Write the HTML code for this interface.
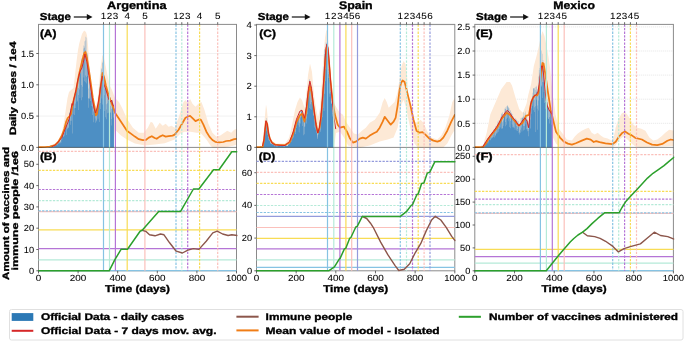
<!DOCTYPE html>
<html><head><meta charset="utf-8"><style>
html,body{margin:0;padding:0;background:#fff;}
body{width:685px;height:342px;overflow:hidden;font-family:"Liberation Sans", sans-serif;}
svg{display:block;will-change:transform;}
</style></head><body>
<svg width="685" height="342" viewBox="0 0 685 342" font-family='"Liberation Sans", sans-serif' text-rendering="geometricPrecision">
<rect width="685" height="342" fill="#fff"/>
<clipPath id="ct0"><rect x="38.5" y="24.4" width="198.0" height="123.6"/></clipPath>
<clipPath id="cb0"><rect x="37.5" y="147.4" width="200.0" height="124.60000000000001"/></clipPath>
<g clip-path="url(#ct0)">
<line x1="38.5" y1="116.10000000000001" x2="236.5" y2="116.10000000000001" stroke="#dedede" stroke-width="0.8" stroke-dasharray="1 1"/>
<line x1="38.5" y1="84.80000000000001" x2="236.5" y2="84.80000000000001" stroke="#dedede" stroke-width="0.8" stroke-dasharray="1 1"/>
<line x1="38.5" y1="53.5" x2="236.5" y2="53.5" stroke="#dedede" stroke-width="0.8" stroke-dasharray="1 1"/>
<polygon points="38.5,147.4 48.0,146.5 54.0,144.0 58.8,140.0 62.0,132.0 64.0,122.0 66.0,108.0 67.5,98.0 69.0,92.0 71.0,90.0 73.5,88.0 75.0,75.0 76.4,62.6 78.0,50.0 79.3,43.3 82.0,34.0 84.1,30.4 86.0,32.0 87.0,35.6 88.0,45.0 88.6,53.0 90.0,75.0 90.9,90.0 92.5,100.0 94.0,104.0 96.0,106.0 97.5,100.0 99.0,85.0 100.5,68.0 102.4,55.0 104.0,58.0 106.0,68.0 108.0,78.0 110.0,86.0 112.0,90.0 115.0,97.9 119.0,101.9 123.0,109.8 126.9,118.7 132.9,127.7 138.8,132.7 143.8,132.7 147.8,127.7 150.8,121.7 152.7,122.7 155.7,128.7 159.7,122.7 162.7,125.7 165.7,123.7 168.6,126.7 171.6,125.7 174.6,127.7 178.6,117.8 181.6,107.8 183.5,101.9 185.5,99.9 187.5,102.8 190.1,98.9 192.5,103.8 195.5,106.8 198.4,103.8 201.4,101.9 204.4,109.8 208.4,123.7 212.4,132.7 216.3,136.6 220.3,135.6 224.3,132.7 227.3,130.7 231.2,132.7 234.2,129.7 237.0,128.7 237.0,144.6 234.2,145.6 225.0,147.4 212.4,147.4 210.4,145.6 206.4,139.6 200.4,132.7 196.5,132.7 190.5,131.7 184.5,131.7 180.6,133.6 174.6,139.6 164.7,143.2 154.7,144.6 144.8,145.6 134.9,143.6 126.9,139.6 121.0,135.6 115.0,129.7 113.0,147.4" fill="#fde9d6" />
<path d="M48.40,147.4L48.40,146.25L48.60,146.25L48.60,146.73L48.80,146.73L48.80,147.26L48.99,147.26L48.99,146.72L49.19,146.72L49.19,146.23L49.39,146.23L49.39,145.90L49.59,145.90L49.59,145.79L49.79,145.79L49.79,146.50L49.98,146.50L49.98,146.42L50.18,146.42L50.18,146.67L50.38,146.67L50.38,146.52L50.58,146.52L50.58,146.06L50.78,146.06L50.78,145.35L50.97,145.35L50.97,146.28L51.17,146.28L51.17,145.31L51.37,145.31L51.37,145.65L51.57,145.65L51.57,145.28L51.77,145.28L51.77,145.66L51.96,145.66L51.96,146.82L52.16,146.82L52.16,146.72L52.36,146.72L52.36,146.34L52.56,146.34L52.56,146.01L52.76,146.01L52.76,146.03L52.95,146.03L52.95,145.96L53.15,145.96L53.15,145.94L53.35,145.94L53.35,146.90L53.55,146.90L53.55,146.21L53.75,146.21L53.75,145.41L53.94,145.41L53.94,145.40L54.14,145.40L54.14,144.91L54.34,144.91L54.34,145.17L54.54,145.17L54.54,145.36L54.74,145.36L54.74,145.42L54.93,145.42L54.93,145.79L55.13,145.79L55.13,144.62L55.33,144.62L55.33,144.74L55.53,144.74L55.53,144.11L55.73,144.11L55.73,144.25L55.92,144.25L55.92,144.46L56.12,144.46L56.12,144.98L56.32,144.98L56.32,144.89L56.52,144.89L56.52,143.71L56.72,143.71L56.72,142.95L56.91,142.95L56.91,142.96L57.11,142.96L57.11,142.69L57.31,142.69L57.31,145.29L57.51,145.29L57.51,143.96L57.71,143.96L57.71,143.70L57.90,143.70L57.90,141.23L58.10,141.23L58.10,141.43L58.30,141.43L58.30,140.69L58.50,140.69L58.50,143.92L58.70,143.92L58.70,141.61L58.89,141.61L58.89,142.27L59.09,142.27L59.09,143.35L59.29,143.35L59.29,139.78L59.49,139.78L59.49,139.58L59.69,139.58L59.69,139.15L59.88,139.15L59.88,143.25L60.08,143.25L60.08,139.67L60.28,139.67L60.28,141.66L60.48,141.66L60.48,141.69L60.68,141.69L60.68,137.68L60.87,137.68L60.87,143.36L61.07,143.36L61.07,136.56L61.27,136.56L61.27,136.99L61.47,136.99L61.47,137.69L61.67,137.69L61.67,138.83L61.86,138.83L61.86,140.36L62.06,140.36L62.06,135.09L62.26,135.09L62.26,134.06L62.46,134.06L62.46,133.66L62.66,133.66L62.66,135.00L62.85,135.00L62.85,133.47L63.05,133.47L63.05,136.15L63.25,136.15L63.25,137.05L63.45,137.05L63.45,132.02L63.65,132.02L63.65,132.30L63.84,132.30L63.84,132.07L64.04,132.07L64.04,128.85L64.24,128.85L64.24,132.43L64.44,132.43L64.44,132.86L64.64,132.86L64.64,135.65L64.83,135.65L64.83,128.61L65.03,128.61L65.03,125.37L65.23,125.37L65.23,127.81L65.43,127.81L65.43,126.25L65.63,126.25L65.63,127.74L65.82,127.74L65.82,130.29L66.02,130.29L66.02,135.01L66.22,135.01L66.22,125.16L66.42,125.16L66.42,120.69L66.62,120.69L66.62,124.21L66.81,124.21L66.81,121.60L67.01,121.60L67.01,125.28L67.21,125.28L67.21,128.28L67.41,128.28L67.41,129.23L67.61,129.23L67.61,119.09L67.80,119.09L67.80,120.70L68.00,120.70L68.00,120.49L68.20,120.49L68.20,119.00L68.40,119.00L68.40,121.50L68.60,121.50L68.60,127.15L68.79,127.15L68.79,127.95L68.99,127.95L68.99,113.15L69.19,113.15L69.19,113.26L69.39,113.26L69.39,117.37L69.59,117.37L69.59,111.68L69.78,111.68L69.78,112.80L69.98,112.80L69.98,120.82L70.18,120.82L70.18,124.78L70.38,124.78L70.38,111.09L70.58,111.09L70.58,108.47L70.77,108.47L70.77,108.40L70.97,108.40L70.97,108.30L71.17,108.30L71.17,107.65L71.37,107.65L71.37,112.60L71.57,112.60L71.57,120.66L71.76,120.66L71.76,106.09L71.96,106.09L71.96,105.60L72.16,105.60L72.16,103.51L72.36,103.51L72.36,103.79L72.56,103.79L72.56,105.23L72.75,105.23L72.75,133.57L72.95,133.57L72.95,114.24L73.15,114.24L73.15,100.53L73.35,100.53L73.35,98.76L73.55,98.76L73.55,99.10L73.74,99.10L73.74,97.81L73.94,97.81L73.94,97.45L74.14,97.45L74.14,108.20L74.34,108.20L74.34,115.12L74.54,115.12L74.54,94.79L74.73,94.79L74.73,93.26L74.93,93.26L74.93,93.39L75.13,93.39L75.13,91.74L75.33,91.74L75.33,95.31L75.53,95.31L75.53,103.47L75.72,103.47L75.72,107.89L75.92,107.89L75.92,91.09L76.12,91.09L76.12,86.86L76.32,86.86L76.32,86.56L76.52,86.56L76.52,85.99L76.71,85.99L76.71,85.49L76.91,85.49L76.91,102.32L77.11,102.32L77.11,100.77L77.31,100.77L77.31,80.81L77.51,80.81L77.51,80.84L77.70,80.84L77.70,79.28L77.90,79.28L77.90,79.78L78.10,79.78L78.10,110.01L78.30,110.01L78.30,87.89L78.50,87.89L78.50,94.89L78.69,94.89L78.69,75.50L78.89,75.50L78.89,73.64L79.09,73.64L79.09,73.56L79.29,73.56L79.29,71.78L79.49,71.78L79.49,72.41L79.68,72.41L79.68,89.53L79.88,89.53L79.88,97.94L80.08,97.94L80.08,73.29L80.28,73.29L80.28,67.81L80.48,67.81L80.48,66.80L80.67,66.80L80.67,70.25L80.87,70.25L80.87,71.66L81.07,71.66L81.07,84.89L81.27,84.89L81.27,100.37L81.47,100.37L81.47,60.39L81.66,60.39L81.66,59.30L81.86,59.30L81.86,57.94L82.06,57.94L82.06,63.83L82.26,63.83L82.26,58.13L82.46,58.13L82.46,86.80L82.65,86.80L82.65,97.13L82.85,97.13L82.85,55.07L83.05,55.07L83.05,57.40L83.25,57.40L83.25,45.49L83.45,45.49L83.45,48.51L83.64,48.51L83.64,56.33L83.84,56.33L83.84,77.41L84.04,77.41L84.04,81.19L84.24,81.19L84.24,46.62L84.44,46.62L84.44,47.89L84.63,47.89L84.63,41.23L84.83,41.23L84.83,59.15L85.03,59.15L85.03,50.08L85.23,50.08L85.23,75.61L85.43,75.61L85.43,82.16L85.62,82.16L85.62,36.78L85.82,36.78L85.82,40.54L86.02,40.54L86.02,37.38L86.22,37.38L86.22,62.39L86.42,62.39L86.42,53.24L86.61,53.24L86.61,76.90L86.81,76.90L86.81,83.40L87.01,83.40L87.01,57.56L87.21,57.56L87.21,53.05L87.41,53.05L87.41,59.38L87.60,59.38L87.60,54.37L87.80,54.37L87.80,76.04L88.00,76.04L88.00,88.54L88.20,88.54L88.20,98.39L88.40,98.39L88.40,107.76L88.59,107.76L88.59,98.29L88.79,98.29L88.79,65.08L88.99,65.08L88.99,76.64L89.19,76.64L89.19,82.03L89.39,82.03L89.39,97.63L89.58,97.63L89.58,98.94L89.78,98.94L89.78,73.23L89.98,73.23L89.98,74.83L90.18,74.83L90.18,78.40L90.38,78.40L90.38,88.28L90.57,88.28L90.57,92.73L90.77,92.73L90.77,101.04L90.97,101.04L90.97,105.91L91.17,105.91L91.17,91.14L91.37,91.14L91.37,86.94L91.56,86.94L91.56,89.30L91.76,89.30L91.76,93.18L91.96,93.18L91.96,99.28L92.16,99.28L92.16,106.50L92.36,106.50L92.36,115.01L92.55,115.01L92.55,97.66L92.75,97.66L92.75,100.88L92.95,100.88L92.95,99.02L93.15,99.02L93.15,100.62L93.35,100.62L93.35,101.26L93.54,101.26L93.54,111.41L93.74,111.41L93.74,122.20L93.94,122.20L93.94,105.54L94.14,105.54L94.14,105.99L94.34,105.99L94.34,106.55L94.53,106.55L94.53,107.62L94.73,107.62L94.73,107.91L94.93,107.91L94.93,118.47L95.13,118.47L95.13,122.64L95.33,122.64L95.33,109.20L95.52,109.20L95.52,110.09L95.72,110.09L95.72,110.46L95.92,110.46L95.92,111.68L96.12,111.68L96.12,110.29L96.32,110.29L96.32,121.59L96.51,121.59L96.51,120.15L96.71,120.15L96.71,108.19L96.91,108.19L96.91,106.26L97.11,106.26L97.11,105.46L97.31,105.46L97.31,106.96L97.50,106.96L97.50,104.20L97.70,104.20L97.70,111.53L97.90,111.53L97.90,118.82L98.10,118.82L98.10,99.37L98.30,99.37L98.30,98.63L98.49,98.63L98.49,96.87L98.69,96.87L98.69,100.38L98.89,100.38L98.89,94.74L99.09,94.74L99.09,103.61L99.29,103.61L99.29,121.90L99.48,121.90L99.48,88.52L99.68,88.52L99.68,86.91L99.88,86.91L99.88,83.75L100.08,83.75L100.08,87.42L100.28,87.42L100.28,85.36L100.47,85.36L100.47,103.08L100.67,103.08L100.67,109.07L100.87,109.07L100.87,74.31L101.07,74.31L101.07,68.16L101.27,68.16L101.27,69.34L101.46,69.34L101.46,79.83L101.66,79.83L101.66,81.00L101.86,81.00L101.86,98.53L102.06,98.53L102.06,104.56L102.26,104.56L102.26,61.82L102.45,61.82L102.45,74.98L102.65,74.98L102.65,63.06L102.85,63.06L102.85,72.80L103.05,72.80L103.05,74.28L103.25,74.28L103.25,92.94L103.44,92.94L103.44,103.72L103.64,103.72L103.64,78.10L103.84,78.10L103.84,77.95L104.04,77.95L104.04,76.76L104.24,76.76L104.24,86.06L104.43,86.06L104.43,88.59L104.63,88.59L104.63,95.33L104.83,95.33L104.83,110.89L105.03,110.89L105.03,80.35L105.23,80.35L105.23,81.25L105.42,81.25L105.42,82.55L105.62,82.55L105.62,117.35L105.82,117.35L105.82,87.51L106.02,87.51L106.02,104.22L106.22,104.22L106.22,109.42L106.41,109.42L106.41,119.28L106.61,119.28L106.61,87.91L106.81,87.91L106.81,91.60L107.01,91.60L107.01,96.92L107.21,96.92L107.21,91.24L107.40,91.24L107.40,103.15L107.60,103.15L107.60,113.15L107.80,113.15L107.80,92.70L108.00,92.70L108.00,95.10L108.20,95.10L108.20,93.21L108.39,93.21L108.39,94.56L108.59,94.56L108.59,100.68L108.79,100.68L108.79,112.83L108.99,112.83L108.99,115.83L109.19,115.83L109.19,95.30L109.38,95.30L109.38,95.18L109.58,95.18L109.58,99.26L109.78,99.26L109.78,97.09L109.98,97.09L109.98,105.95L110.18,105.95L110.18,112.02L110.37,112.02L110.37,112.91L110.57,112.91L110.57,98.04L110.77,98.04L110.77,97.17L110.97,97.17L110.97,100.82L111.17,100.82L111.17,102.54L111.36,102.54L111.36,125.44L111.56,125.44L111.56,108.89L111.76,108.89L111.76,118.92L111.96,118.92L111.96,99.77L112.16,99.77L112.16,100.18L112.35,100.18L112.35,100.64L112.55,100.64L112.55,102.45L112.75,102.45L112.75,101.91L112.95,101.91L112.95,112.66L113.15,112.66L113.15,117.52L113.34,117.52L113.34,103.56L113.54,103.56L113.54,103.22L113.74,103.22L113.74,105.14L113.94,105.14L113.94,147.4Z" fill="#4d8fc4"/>
<polyline points="38.5,147.2 45.0,147.0 50.0,146.5 55.0,145.1 58.4,141.7 61.8,135.8 64.3,129.0 66.0,122.2 67.7,118.0 69.4,116.3 71.1,113.7 71.9,108.6 72.8,103.6 74.5,96.8 76.2,90.0 78.9,75.0 81.9,61.9 84.3,53.0 85.5,52.0 86.9,58.0 88.9,69.9 90.9,83.8 92.8,97.7 94.8,108.5 95.8,115.4 97.0,114.0 99.0,100.0 101.0,84.0 102.5,73.0 104.0,77.0 106.0,86.0 108.5,95.0 110.8,101.2 113.4,107.7 115.0,112.8 119.0,118.7 123.0,124.7 126.9,130.7 130.9,133.6 134.9,136.6 138.8,139.2 142.8,140.2 145.8,140.0 148.8,137.6 151.8,136.2 154.7,138.0 156.7,138.8 159.7,136.6 162.7,135.2 165.7,136.6 168.6,136.2 172.6,135.6 174.6,134.6 178.6,129.7 182.6,122.7 185.5,117.8 187.5,116.8 190.1,115.8 192.5,118.1 195.5,121.1 198.4,119.7 200.8,119.7 203.4,124.7 206.4,131.7 209.4,136.6 212.4,140.0 215.3,141.8 219.3,142.4 223.3,142.0 226.3,141.0 230.2,140.6 234.2,139.2 237.0,138.8" fill="none" stroke="#f07d16" stroke-width="1.75" stroke-linejoin="round" stroke-linecap="round" />
<polyline points="52.0,146.6 56.0,144.5 59.0,141.0 61.8,137.5 65.2,129.0 67.7,123.0 69.4,118.0 71.1,108.6 72.0,103.6 72.8,105.3 73.6,100.2 75.3,93.4 76.5,87.0 77.9,79.8 79.9,71.9 81.9,67.9 83.9,59.9 84.9,54.0 86.9,61.9 88.9,75.8 90.5,86.0 92.5,100.0 94.0,108.0 95.5,113.0 96.5,110.0 98.0,104.0 99.5,95.0 101.0,84.0 102.3,76.0 103.2,80.0 104.5,86.0 106.0,90.0 107.5,95.0 109.0,100.0 110.5,102.0 111.5,100.0 112.5,104.0 113.5,106.0" fill="none" stroke="#d62728" stroke-width="1.0" stroke-linejoin="round" stroke-linecap="round" />
<line x1="103.5" y1="24.4" x2="103.5" y2="147.4" stroke="#86c3e3" stroke-width="1.2"/>
<line x1="109.5" y1="24.4" x2="109.5" y2="147.4" stroke="#b5ead8" stroke-width="1.2"/>
<line x1="115.4" y1="24.4" x2="115.4" y2="147.4" stroke="#b574d6" stroke-width="1.2"/>
<line x1="127.2" y1="24.4" x2="127.2" y2="147.4" stroke="#f8dc55" stroke-width="1.2"/>
<line x1="144.9" y1="24.4" x2="144.9" y2="147.4" stroke="#fbc0bb" stroke-width="1.2"/>
<line x1="176.0" y1="24.4" x2="176.0" y2="147.4" stroke="#86c3e3" stroke-width="1.2" stroke-dasharray="2.3 1.3"/>
<line x1="181.8" y1="24.4" x2="181.8" y2="147.4" stroke="#b5ead8" stroke-width="1.2" stroke-dasharray="2.3 1.3"/>
<line x1="187.7" y1="24.4" x2="187.7" y2="147.4" stroke="#b574d6" stroke-width="1.2" stroke-dasharray="2.3 1.3"/>
<line x1="199.6" y1="24.4" x2="199.6" y2="147.4" stroke="#f8dc55" stroke-width="1.2" stroke-dasharray="2.3 1.3"/>
<line x1="217.7" y1="24.4" x2="217.7" y2="147.4" stroke="#fbc0bb" stroke-width="1.2" stroke-dasharray="2.3 1.3"/>
</g>
<rect x="38.5" y="24.4" width="198.0" height="246.4" fill="none" stroke="#000" stroke-opacity="0.46" stroke-width="1"/>
<line x1="38.5" y1="147.4" x2="236.5" y2="147.4" stroke="#000" stroke-opacity="0.46" stroke-width="1"/>
<g clip-path="url(#cb0)">
<line x1="38.5" y1="151.3" x2="236.5" y2="151.3" stroke="#fbc0bb" stroke-width="1.2" stroke-dasharray="2.3 1.3"/>
<line x1="38.5" y1="170.4" x2="236.5" y2="170.4" stroke="#f8dc55" stroke-width="1.2" stroke-dasharray="2.3 1.3"/>
<line x1="38.5" y1="189.5" x2="236.5" y2="189.5" stroke="#b574d6" stroke-width="1.2" stroke-dasharray="2.3 1.3"/>
<line x1="38.5" y1="200.6" x2="236.5" y2="200.6" stroke="#b5ead8" stroke-width="1.2" stroke-dasharray="2.3 1.3"/>
<line x1="38.5" y1="211.7" x2="236.5" y2="211.7" stroke="#fbc0bb" stroke-width="1.2"/>
<line x1="38.5" y1="210.9" x2="236.5" y2="210.9" stroke="#86c3e3" stroke-width="1.2" stroke-dasharray="2.3 1.3"/>
<line x1="38.5" y1="229.9" x2="236.5" y2="229.9" stroke="#f8dc55" stroke-width="1.2"/>
<line x1="38.5" y1="248.6" x2="236.5" y2="248.6" stroke="#b574d6" stroke-width="1.2"/>
<line x1="38.5" y1="259.9" x2="236.5" y2="259.9" stroke="#b5ead8" stroke-width="1.2"/>
<line x1="38.5" y1="270.6" x2="236.5" y2="270.6" stroke="#86c3e3" stroke-width="1.2"/>
<line x1="103.5" y1="147.4" x2="103.5" y2="270.8" stroke="#86c3e3" stroke-width="1.2"/>
<line x1="109.5" y1="147.4" x2="109.5" y2="270.8" stroke="#b5ead8" stroke-width="1.2"/>
<line x1="115.4" y1="147.4" x2="115.4" y2="270.8" stroke="#b574d6" stroke-width="1.2"/>
<line x1="127.2" y1="147.4" x2="127.2" y2="270.8" stroke="#f8dc55" stroke-width="1.2"/>
<line x1="144.9" y1="147.4" x2="144.9" y2="270.8" stroke="#fbc0bb" stroke-width="1.2"/>
<line x1="176.0" y1="147.4" x2="176.0" y2="270.8" stroke="#86c3e3" stroke-width="1.2" stroke-dasharray="2.3 1.3"/>
<line x1="181.8" y1="147.4" x2="181.8" y2="270.8" stroke="#b5ead8" stroke-width="1.2" stroke-dasharray="2.3 1.3"/>
<line x1="187.7" y1="147.4" x2="187.7" y2="270.8" stroke="#b574d6" stroke-width="1.2" stroke-dasharray="2.3 1.3"/>
<line x1="199.6" y1="147.4" x2="199.6" y2="270.8" stroke="#f8dc55" stroke-width="1.2" stroke-dasharray="2.3 1.3"/>
<line x1="217.7" y1="147.4" x2="217.7" y2="270.8" stroke="#fbc0bb" stroke-width="1.2" stroke-dasharray="2.3 1.3"/>
<polyline points="142.2,230.3 145.8,231.3 149.5,234.8 155.0,235.8 160.5,234.0 164.0,234.8 169.6,242.8 176.2,251.2 182.4,253.0 187.9,250.1 193.4,248.6 198.9,249.4 206.2,241.3 212.8,232.9 217.2,231.1 222.6,234.0 228.1,235.5 231.8,234.8 237.3,235.5" fill="none" stroke="#8c564b" stroke-width="1.4" stroke-linejoin="round" stroke-linecap="round" />
<polyline points="38.5,270.8 109.2,270.8 114.6,260.1 121.2,249.2 127.5,249.2 140.1,231.3 142.2,230.3 158.7,211.4 180.6,211.4 193.4,189.0 198.9,189.0 213.5,169.7 219.0,169.7 231.8,151.8 237.0,151.8" fill="none" stroke="#2ca02c" stroke-width="1.5" stroke-linejoin="round" stroke-linecap="round" />
</g>
<line x1="103.5" y1="22.2" x2="103.5" y2="24.4" stroke="#444" stroke-width="0.8"/>
<line x1="109.5" y1="22.2" x2="109.5" y2="24.4" stroke="#444" stroke-width="0.8"/>
<line x1="115.4" y1="22.2" x2="115.4" y2="24.4" stroke="#444" stroke-width="0.8"/>
<line x1="127.2" y1="22.2" x2="127.2" y2="24.4" stroke="#444" stroke-width="0.8"/>
<line x1="144.9" y1="22.2" x2="144.9" y2="24.4" stroke="#444" stroke-width="0.8"/>
<line x1="176.0" y1="22.2" x2="176.0" y2="24.4" stroke="#444" stroke-width="0.8"/>
<line x1="181.8" y1="22.2" x2="181.8" y2="24.4" stroke="#444" stroke-width="0.8"/>
<line x1="187.7" y1="22.2" x2="187.7" y2="24.4" stroke="#444" stroke-width="0.8"/>
<line x1="199.6" y1="22.2" x2="199.6" y2="24.4" stroke="#444" stroke-width="0.8"/>
<line x1="217.7" y1="22.2" x2="217.7" y2="24.4" stroke="#444" stroke-width="0.8"/>
<text x="103.5" y="19.0" font-size="9.0" font-weight="normal" text-anchor="middle" fill="#000" textLength="5.5" lengthAdjust="spacingAndGlyphs"  stroke="#000" stroke-width="0.06">1</text>
<text x="109.5" y="19.0" font-size="9.0" font-weight="normal" text-anchor="middle" fill="#000" textLength="5.5" lengthAdjust="spacingAndGlyphs"  stroke="#000" stroke-width="0.06">2</text>
<text x="115.4" y="19.0" font-size="9.0" font-weight="normal" text-anchor="middle" fill="#000" textLength="5.5" lengthAdjust="spacingAndGlyphs"  stroke="#000" stroke-width="0.06">3</text>
<text x="127.2" y="19.0" font-size="9.0" font-weight="normal" text-anchor="middle" fill="#000" textLength="5.5" lengthAdjust="spacingAndGlyphs"  stroke="#000" stroke-width="0.06">4</text>
<text x="144.9" y="19.0" font-size="9.0" font-weight="normal" text-anchor="middle" fill="#000" textLength="5.5" lengthAdjust="spacingAndGlyphs"  stroke="#000" stroke-width="0.06">5</text>
<text x="176.0" y="19.0" font-size="9.0" font-weight="normal" text-anchor="middle" fill="#000" textLength="5.5" lengthAdjust="spacingAndGlyphs"  stroke="#000" stroke-width="0.06">1</text>
<text x="181.8" y="19.0" font-size="9.0" font-weight="normal" text-anchor="middle" fill="#000" textLength="5.5" lengthAdjust="spacingAndGlyphs"  stroke="#000" stroke-width="0.06">2</text>
<text x="187.7" y="19.0" font-size="9.0" font-weight="normal" text-anchor="middle" fill="#000" textLength="5.5" lengthAdjust="spacingAndGlyphs"  stroke="#000" stroke-width="0.06">3</text>
<text x="199.6" y="19.0" font-size="9.0" font-weight="normal" text-anchor="middle" fill="#000" textLength="5.5" lengthAdjust="spacingAndGlyphs"  stroke="#000" stroke-width="0.06">4</text>
<text x="217.7" y="19.0" font-size="9.0" font-weight="normal" text-anchor="middle" fill="#000" textLength="5.5" lengthAdjust="spacingAndGlyphs"  stroke="#000" stroke-width="0.06">5</text>
<text x="136.8" y="9.4" font-size="11.0" font-weight="bold" text-anchor="middle" fill="#000" textLength="59.4" lengthAdjust="spacingAndGlyphs"  stroke="#000" stroke-width="0.35">Argentina</text>
<text x="39.8" y="20.1" font-size="10.2" font-weight="bold" text-anchor="start" fill="#000" textLength="31.2" lengthAdjust="spacingAndGlyphs"  stroke="#000" stroke-width="0.35">Stage</text>
<line x1="73.8" y1="17.0" x2="88.0" y2="17.0" stroke="#111" stroke-width="1.2"/>
<polygon points="86.8,14.1 92.5,17.0 86.8,19.9" fill="#111"/>
<text x="39.9" y="36.8" font-size="10.6" font-weight="bold" text-anchor="start" fill="#000" textLength="16.6" lengthAdjust="spacingAndGlyphs"  stroke="#000" stroke-width="0.35">(A)</text>
<text x="39.9" y="160.0" font-size="10.6" font-weight="bold" text-anchor="start" fill="#000" textLength="16.6" lengthAdjust="spacingAndGlyphs"  stroke="#000" stroke-width="0.35">(B)</text>
<line x1="36.3" y1="147.4" x2="38.5" y2="147.4" stroke="#444" stroke-width="0.8"/>
<text x="33.9" y="150.6" font-size="9.0" font-weight="normal" text-anchor="end" fill="#000" textLength="12.9" lengthAdjust="spacingAndGlyphs"  stroke="#000" stroke-width="0.06">0.0</text>
<line x1="36.3" y1="116.10000000000001" x2="38.5" y2="116.10000000000001" stroke="#444" stroke-width="0.8"/>
<text x="33.9" y="119.30000000000001" font-size="9.0" font-weight="normal" text-anchor="end" fill="#000" textLength="12.9" lengthAdjust="spacingAndGlyphs"  stroke="#000" stroke-width="0.06">0.5</text>
<line x1="36.3" y1="84.80000000000001" x2="38.5" y2="84.80000000000001" stroke="#444" stroke-width="0.8"/>
<text x="33.9" y="88.00000000000001" font-size="9.0" font-weight="normal" text-anchor="end" fill="#000" textLength="12.9" lengthAdjust="spacingAndGlyphs"  stroke="#000" stroke-width="0.06">1.0</text>
<line x1="36.3" y1="53.5" x2="38.5" y2="53.5" stroke="#444" stroke-width="0.8"/>
<text x="33.9" y="56.7" font-size="9.0" font-weight="normal" text-anchor="end" fill="#000" textLength="12.9" lengthAdjust="spacingAndGlyphs"  stroke="#000" stroke-width="0.06">1.5</text>
<line x1="36.3" y1="270.8" x2="38.5" y2="270.8" stroke="#444" stroke-width="0.8"/>
<text x="34.1" y="273.8" font-size="9.0" font-weight="normal" text-anchor="end" fill="#000" textLength="5.15" lengthAdjust="spacingAndGlyphs"  stroke="#000" stroke-width="0.06">0</text>
<line x1="36.3" y1="249.5" x2="38.5" y2="249.5" stroke="#444" stroke-width="0.8"/>
<text x="34.1" y="252.5" font-size="9.0" font-weight="normal" text-anchor="end" fill="#000" textLength="10.3" lengthAdjust="spacingAndGlyphs"  stroke="#000" stroke-width="0.06">10</text>
<line x1="36.3" y1="228.20000000000002" x2="38.5" y2="228.20000000000002" stroke="#444" stroke-width="0.8"/>
<text x="34.1" y="231.20000000000002" font-size="9.0" font-weight="normal" text-anchor="end" fill="#000" textLength="10.3" lengthAdjust="spacingAndGlyphs"  stroke="#000" stroke-width="0.06">20</text>
<line x1="36.3" y1="206.9" x2="38.5" y2="206.9" stroke="#444" stroke-width="0.8"/>
<text x="34.1" y="209.9" font-size="9.0" font-weight="normal" text-anchor="end" fill="#000" textLength="10.3" lengthAdjust="spacingAndGlyphs"  stroke="#000" stroke-width="0.06">30</text>
<line x1="36.3" y1="185.60000000000002" x2="38.5" y2="185.60000000000002" stroke="#444" stroke-width="0.8"/>
<text x="34.1" y="188.60000000000002" font-size="9.0" font-weight="normal" text-anchor="end" fill="#000" textLength="10.3" lengthAdjust="spacingAndGlyphs"  stroke="#000" stroke-width="0.06">40</text>
<line x1="36.3" y1="164.3" x2="38.5" y2="164.3" stroke="#444" stroke-width="0.8"/>
<text x="34.1" y="167.3" font-size="9.0" font-weight="normal" text-anchor="end" fill="#000" textLength="10.3" lengthAdjust="spacingAndGlyphs"  stroke="#000" stroke-width="0.06">50</text>
<line x1="38.5" y1="270.8" x2="38.5" y2="273.40000000000003" stroke="#444" stroke-width="0.8"/>
<text x="38.5" y="280.9" font-size="9.0" font-weight="normal" text-anchor="middle" fill="#000" textLength="5.5" lengthAdjust="spacingAndGlyphs"  stroke="#000" stroke-width="0.06">0</text>
<line x1="78.1" y1="270.8" x2="78.1" y2="273.40000000000003" stroke="#444" stroke-width="0.8"/>
<text x="78.1" y="280.9" font-size="9.0" font-weight="normal" text-anchor="middle" fill="#000" textLength="16.5" lengthAdjust="spacingAndGlyphs"  stroke="#000" stroke-width="0.06">200</text>
<line x1="117.7" y1="270.8" x2="117.7" y2="273.40000000000003" stroke="#444" stroke-width="0.8"/>
<text x="117.7" y="280.9" font-size="9.0" font-weight="normal" text-anchor="middle" fill="#000" textLength="16.5" lengthAdjust="spacingAndGlyphs"  stroke="#000" stroke-width="0.06">400</text>
<line x1="157.3" y1="270.8" x2="157.3" y2="273.40000000000003" stroke="#444" stroke-width="0.8"/>
<text x="157.3" y="280.9" font-size="9.0" font-weight="normal" text-anchor="middle" fill="#000" textLength="16.5" lengthAdjust="spacingAndGlyphs"  stroke="#000" stroke-width="0.06">600</text>
<line x1="196.9" y1="270.8" x2="196.9" y2="273.40000000000003" stroke="#444" stroke-width="0.8"/>
<text x="196.9" y="280.9" font-size="9.0" font-weight="normal" text-anchor="middle" fill="#000" textLength="16.5" lengthAdjust="spacingAndGlyphs"  stroke="#000" stroke-width="0.06">800</text>
<line x1="236.5" y1="270.8" x2="236.5" y2="273.40000000000003" stroke="#444" stroke-width="0.8"/>
<text x="236.5" y="280.9" font-size="8.8" font-weight="normal" text-anchor="middle" fill="#000" textLength="21.2" lengthAdjust="spacingAndGlyphs"  stroke="#000" stroke-width="0.06">1000</text>
<text x="137.5" y="292.2" font-size="9.8" font-weight="bold" text-anchor="middle" fill="#000" textLength="65" lengthAdjust="spacingAndGlyphs"  stroke="#000" stroke-width="0.35">Time (days)</text>
<clipPath id="ct1"><rect x="256.5" y="24.4" width="198.3" height="123.6"/></clipPath>
<clipPath id="cb1"><rect x="255.5" y="147.4" width="200.3" height="124.60000000000001"/></clipPath>
<g clip-path="url(#ct1)">
<line x1="256.5" y1="116.80000000000001" x2="454.8" y2="116.80000000000001" stroke="#dedede" stroke-width="0.8" stroke-dasharray="1 1"/>
<line x1="256.5" y1="86.2" x2="454.8" y2="86.2" stroke="#dedede" stroke-width="0.8" stroke-dasharray="1 1"/>
<line x1="256.5" y1="55.599999999999994" x2="454.8" y2="55.599999999999994" stroke="#dedede" stroke-width="0.8" stroke-dasharray="1 1"/>
<line x1="256.5" y1="25.0" x2="454.8" y2="25.0" stroke="#dedede" stroke-width="0.8" stroke-dasharray="1 1"/>
<polygon points="256.5,147.4 262.0,146.0 263.5,135.0 265.0,115.0 266.0,104.4 267.0,110.0 268.5,128.0 270.0,138.0 272.0,141.0 276.0,143.5 285.0,143.5 289.0,138.0 292.0,125.0 295.0,110.0 297.5,102.0 299.9,97.6 302.0,100.0 304.5,108.0 306.5,92.0 308.0,75.0 310.0,63.6 312.0,72.0 314.0,95.0 316.0,108.0 318.0,118.0 320.0,108.0 322.0,80.0 323.5,55.0 325.0,38.0 326.4,29.4 327.5,33.0 329.0,50.0 331.0,80.0 333.0,95.0 335.0,105.0 338.0,110.0 340.0,112.8 343.0,114.8 346.0,121.7 350.0,127.7 353.9,133.6 357.9,134.6 361.9,130.7 365.8,127.7 369.8,122.7 374.8,119.7 379.7,112.8 382.7,101.9 384.7,97.9 386.7,101.9 388.7,107.8 391.7,104.8 394.6,101.9 397.6,91.9 399.6,78.0 401.5,66.0 403.5,61.0 405.5,64.0 407.0,75.0 408.5,99.9 411.5,111.8 414.5,121.7 417.5,122.7 420.5,119.7 423.5,122.7 427.4,131.7 431.4,137.6 437.4,139.6 441.3,135.6 445.3,127.7 449.3,115.8 452.3,101.9 454.8,97.9 454.8,129.7 451.3,135.6 447.3,143.6 443.3,147.4 417.5,147.4 414.5,143.6 411.5,133.6 408.5,119.7 405.6,105.8 403.6,99.9 401.6,103.8 399.6,115.8 397.6,127.7 393.6,137.6 387.7,139.6 379.7,141.6 369.8,145.6 360.0,147.4 348.0,145.6 344.0,137.6 340.0,131.7 336.0,133.0 334.0,147.4" fill="#fde9d6" />
<path d="M260.07,147.4L260.07,147.22L260.27,147.22L260.27,146.09L260.47,146.09L260.47,146.17L260.66,146.17L260.66,146.73L260.86,146.73L260.86,145.78L261.06,145.78L261.06,145.93L261.26,145.93L261.26,146.77L261.46,146.77L261.46,147.11L261.66,147.11L261.66,146.95L261.85,146.95L261.85,146.95L262.05,146.95L262.05,146.73L262.25,146.73L262.25,146.78L262.45,146.78L262.45,146.78L262.65,146.78L262.65,145.97L262.85,145.97L262.85,145.53L263.04,145.53L263.04,145.02L263.24,145.02L263.24,144.66L263.44,144.66L263.44,142.11L263.64,142.11L263.64,140.52L263.84,140.52L263.84,141.03L264.04,141.03L264.04,138.77L264.23,138.77L264.23,137.60L264.43,137.60L264.43,137.33L264.63,137.33L264.63,137.35L264.83,137.35L264.83,128.57L265.03,128.57L265.03,127.25L265.23,127.25L265.23,123.37L265.42,123.37L265.42,125.10L265.62,125.10L265.62,125.47L265.82,125.47L265.82,129.70L266.02,129.70L266.02,131.28L266.22,131.28L266.22,121.57L266.42,121.57L266.42,118.04L266.61,118.04L266.61,120.60L266.81,120.60L266.81,122.37L267.01,122.37L267.01,126.36L267.21,126.36L267.21,128.77L267.41,128.77L267.41,135.05L267.60,135.05L267.60,125.60L267.80,125.60L267.80,128.73L268.00,128.73L268.00,131.27L268.20,131.27L268.20,132.82L268.40,132.82L268.40,133.08L268.60,133.08L268.60,137.94L268.79,137.94L268.79,140.15L268.99,140.15L268.99,134.20L269.19,134.20L269.19,137.17L269.39,137.17L269.39,137.80L269.59,137.80L269.59,141.20L269.79,141.20L269.79,140.49L269.98,140.49L269.98,141.30L270.18,141.30L270.18,143.02L270.38,143.02L270.38,139.78L270.58,139.78L270.58,143.99L270.78,143.99L270.78,142.42L270.98,142.42L270.98,144.25L271.17,144.25L271.17,141.87L271.37,141.87L271.37,142.34L271.57,142.34L271.57,144.09L271.77,144.09L271.77,143.57L271.97,143.57L271.97,143.70L272.17,143.70L272.17,143.28L272.36,143.28L272.36,143.83L272.56,143.83L272.56,144.36L272.76,144.36L272.76,144.46L272.96,144.46L272.96,145.17L273.16,145.17L273.16,144.12L273.36,144.12L273.36,143.55L273.55,143.55L273.55,144.83L273.75,144.83L273.75,144.18L273.95,144.18L273.95,144.89L274.15,144.89L274.15,146.46L274.35,146.46L274.35,144.64L274.55,144.64L274.55,145.55L274.74,145.55L274.74,145.14L274.94,145.14L274.94,145.06L275.14,145.06L275.14,144.68L275.34,144.68L275.34,145.45L275.54,145.45L275.54,145.69L275.74,145.69L275.74,146.28L275.93,146.28L275.93,145.72L276.13,145.72L276.13,146.07L276.33,146.07L276.33,146.47L276.53,146.47L276.53,146.04L276.73,146.04L276.73,146.48L276.92,146.48L276.92,145.77L277.12,145.77L277.12,146.39L277.32,146.39L277.32,145.10L277.52,145.10L277.52,146.21L277.72,146.21L277.72,145.81L277.92,145.81L277.92,146.32L278.11,146.32L278.11,145.22L278.31,145.22L278.31,145.46L278.51,145.46L278.51,145.33L278.71,145.33L278.71,145.96L278.91,145.96L278.91,146.10L279.11,146.10L279.11,145.07L279.30,145.07L279.30,145.25L279.50,145.25L279.50,145.77L279.70,145.77L279.70,145.48L279.90,145.48L279.90,145.27L280.10,145.27L280.10,145.00L280.30,145.00L280.30,146.40L280.49,146.40L280.49,145.02L280.69,145.02L280.69,146.06L280.89,146.06L280.89,145.48L281.09,145.48L281.09,146.33L281.29,146.33L281.29,145.37L281.49,145.37L281.49,145.43L281.68,145.43L281.68,145.81L281.88,145.81L281.88,145.01L282.08,145.01L282.08,146.28L282.28,146.28L282.28,145.18L282.48,145.18L282.48,145.78L282.68,145.78L282.68,145.09L282.87,145.09L282.87,145.06L283.07,145.06L283.07,145.51L283.27,145.51L283.27,146.16L283.47,146.16L283.47,145.50L283.67,145.50L283.67,146.48L283.87,146.48L283.87,145.18L284.06,145.18L284.06,146.47L284.26,146.47L284.26,145.59L284.46,145.59L284.46,146.35L284.66,146.35L284.66,146.20L284.86,146.20L284.86,146.21L285.06,146.21L285.06,145.58L285.25,145.58L285.25,145.65L285.45,145.65L285.45,145.05L285.65,145.05L285.65,145.24L285.85,145.24L285.85,145.77L286.05,145.77L286.05,146.10L286.25,146.10L286.25,145.37L286.44,145.37L286.44,145.32L286.64,145.32L286.64,145.32L286.84,145.32L286.84,146.26L287.04,146.26L287.04,146.06L287.24,146.06L287.24,145.05L287.43,145.05L287.43,145.93L287.63,145.93L287.63,146.04L287.83,146.04L287.83,145.69L288.03,145.69L288.03,144.97L288.23,144.97L288.23,144.57L288.43,144.57L288.43,144.06L288.62,144.06L288.62,144.28L288.82,144.28L288.82,143.23L289.02,143.23L289.02,143.63L289.22,143.63L289.22,143.12L289.42,143.12L289.42,143.68L289.62,143.68L289.62,144.15L289.81,144.15L289.81,142.08L290.01,142.08L290.01,141.00L290.21,141.00L290.21,139.69L290.41,139.69L290.41,140.56L290.61,140.56L290.61,139.73L290.81,139.73L290.81,141.85L291.00,141.85L291.00,141.65L291.20,141.65L291.20,138.22L291.40,138.22L291.40,136.55L291.60,136.55L291.60,136.39L291.80,136.39L291.80,135.56L292.00,135.56L292.00,136.17L292.19,136.17L292.19,138.10L292.39,138.10L292.39,138.67L292.59,138.67L292.59,132.80L292.79,132.80L292.79,131.90L292.99,131.90L292.99,132.68L293.19,132.68L293.19,130.15L293.38,130.15L293.38,131.13L293.58,131.13L293.58,133.87L293.78,133.87L293.78,137.52L293.98,137.52L293.98,129.18L294.18,129.18L294.18,126.52L294.38,126.52L294.38,125.33L294.57,125.33L294.57,127.37L294.77,127.37L294.77,126.56L294.97,126.56L294.97,131.79L295.17,131.79L295.17,134.09L295.37,134.09L295.37,124.46L295.57,124.46L295.57,122.49L295.76,122.49L295.76,121.50L295.96,121.50L295.96,122.22L296.16,122.22L296.16,121.27L296.36,121.27L296.36,125.21L296.56,125.21L296.56,127.98L296.75,127.98L296.75,119.78L296.95,119.78L296.95,119.30L297.15,119.30L297.15,118.79L297.35,118.79L297.35,117.85L297.55,117.85L297.55,117.90L297.75,117.90L297.75,121.65L297.94,121.65L297.94,125.31L298.14,125.31L298.14,117.12L298.34,117.12L298.34,116.34L298.54,116.34L298.54,114.50L298.74,114.50L298.74,117.02L298.94,117.02L298.94,132.43L299.13,132.43L299.13,122.71L299.33,122.71L299.33,126.68L299.53,126.68L299.53,113.90L299.73,113.90L299.73,110.99L299.93,110.99L299.93,111.11L300.13,111.11L300.13,113.95L300.32,113.95L300.32,116.41L300.52,116.41L300.52,117.58L300.72,117.58L300.72,123.58L300.92,123.58L300.92,109.32L301.12,109.32L301.12,110.56L301.32,110.56L301.32,111.06L301.51,111.06L301.51,110.76L301.71,110.76L301.71,111.94L301.91,111.94L301.91,117.05L302.11,117.05L302.11,126.02L302.31,126.02L302.31,114.12L302.51,114.12L302.51,114.64L302.70,114.64L302.70,114.59L302.90,114.59L302.90,115.91L303.10,115.91L303.10,116.52L303.30,116.52L303.30,122.10L303.50,122.10L303.50,135.31L303.70,135.31L303.70,117.58L303.89,117.58L303.89,117.87L304.09,117.87L304.09,118.04L304.29,118.04L304.29,115.93L304.49,115.93L304.49,134.29L304.69,134.29L304.69,126.82L304.89,126.82L304.89,126.57L305.08,126.57L305.08,112.13L305.28,112.13L305.28,112.24L305.48,112.24L305.48,110.84L305.68,110.84L305.68,108.79L305.88,108.79L305.88,111.88L306.08,111.88L306.07,118.51L306.27,118.51L306.27,123.51L306.47,123.51L306.47,105.77L306.67,105.77L306.67,102.21L306.87,102.21L306.87,97.52L307.07,97.52L307.07,95.52L307.26,95.52L307.26,98.04L307.46,98.04L307.46,109.69L307.66,109.69L307.66,114.17L307.86,114.17L307.86,93.02L308.06,93.02L308.06,88.04L308.26,88.04L308.26,86.90L308.45,86.90L308.45,85.34L308.65,85.34L308.65,87.11L308.85,87.11L308.85,96.57L309.05,96.57L309.05,108.06L309.25,108.06L309.25,80.90L309.45,80.90L309.45,79.62L309.64,79.62L309.64,79.40L309.84,79.40L309.84,81.90L310.04,81.90L310.04,85.28L310.24,85.28L310.24,104.30L310.44,104.30L310.44,109.20L310.64,109.20L310.64,83.94L310.83,83.94L310.83,84.79L311.03,84.79L311.03,86.10L311.23,86.10L311.23,90.93L311.43,90.93L311.43,90.61L311.63,90.61L311.63,101.92L311.83,101.92L311.83,109.87L312.02,109.87L312.02,95.60L312.22,95.60L312.22,97.20L312.42,97.20L312.42,98.24L312.62,98.24L312.62,99.67L312.82,99.67L312.82,102.66L313.02,102.66L313.02,115.00L313.21,115.00L313.21,116.01L313.41,116.01L313.41,106.25L313.61,106.25L313.61,107.05L313.81,107.05L313.81,108.53L314.01,108.53L314.01,109.58L314.21,109.58L314.21,111.79L314.40,111.79L314.40,121.30L314.60,121.30L314.60,127.42L314.80,127.42L314.80,114.43L315.00,114.43L315.00,115.75L315.20,115.75L315.20,119.22L315.40,119.22L315.40,120.05L315.59,120.05L315.59,123.82L315.79,123.82L315.79,129.41L315.99,129.41L315.99,132.96L316.19,132.96L316.19,122.99L316.39,122.99L316.39,122.52L316.58,122.52L316.58,124.81L316.78,124.81L316.78,125.95L316.98,125.95L316.98,137.57L317.18,137.57L317.18,138.92L317.38,138.92L317.38,135.34L317.58,135.34L317.58,129.52L317.77,129.52L317.77,130.23L317.97,130.23L317.97,130.31L318.17,130.31L318.17,129.19L318.37,129.19L318.37,132.47L318.57,132.47L318.57,132.26L318.77,132.26L318.77,134.54L318.96,134.54L318.96,124.64L319.16,124.64L319.16,126.09L319.36,126.09L319.36,122.34L319.56,122.34L319.56,122.30L319.76,122.30L319.76,123.85L319.96,123.85L319.96,129.53L320.15,129.53L320.15,131.86L320.35,131.86L320.35,117.28L320.55,117.28L320.55,112.74L320.75,112.74L320.75,113.03L320.95,113.03L320.95,114.31L321.15,114.31L321.15,116.14L321.34,116.14L321.34,119.04L321.54,119.04L321.54,117.79L321.74,117.79L321.74,101.59L321.94,101.59L321.94,97.29L322.14,97.29L322.14,91.21L322.34,91.21L322.34,94.70L322.53,94.70L322.53,117.15L322.73,117.15L322.73,100.34L322.93,100.34L322.93,108.01L323.13,108.01L323.13,82.51L323.33,82.51L323.33,75.91L323.53,75.91L323.53,78.09L323.72,78.09L323.72,66.62L323.92,66.62L323.92,111.17L324.12,111.17L324.12,84.20L324.32,84.20L324.32,93.69L324.52,93.69L324.52,54.02L324.72,54.02L324.72,49.33L324.91,49.33L324.91,49.38L325.11,49.38L325.11,50.79L325.31,50.79L325.31,55.96L325.51,55.96L325.51,69.02L325.71,69.02L325.71,81.31L325.91,81.31L325.90,42.22L326.10,42.22L326.10,43.26L326.30,43.26L326.30,43.28L326.50,43.28L326.50,44.54L326.70,44.54L326.70,45.88L326.90,45.88L326.90,69.69L327.09,69.69L327.09,74.86L327.29,74.86L327.29,49.76L327.49,49.76L327.49,51.81L327.69,51.81L327.69,54.78L327.89,54.78L327.89,57.33L328.09,57.33L328.09,60.85L328.28,60.85L328.28,74.26L328.48,74.26L328.48,77.89L328.68,77.89L328.68,68.94L328.88,68.94L328.88,72.06L329.08,72.06L329.08,73.78L329.28,73.78L329.28,78.10L329.47,78.10L329.47,79.66L329.67,79.66L329.67,93.48L329.87,93.48L329.87,96.71L330.07,96.71L330.07,85.73L330.27,85.73L330.27,87.75L330.47,87.75L330.47,89.41L330.66,89.41L330.66,91.94L330.86,91.94L330.86,93.76L331.06,93.76L331.06,103.57L331.26,103.57L331.26,103.84L331.46,103.84L331.46,99.48L331.66,99.48L331.66,102.19L331.85,102.19L331.85,103.77L332.05,103.77L332.05,105.81L332.25,105.81L332.25,108.20L332.45,108.20L332.45,111.50L332.65,111.50L332.65,116.53L332.85,116.53L332.85,114.13L333.04,114.13L333.04,127.76L333.24,127.76L333.24,118.14L333.44,118.14L333.44,120.38L333.64,120.38L333.64,121.14L333.84,121.14L333.84,147.4Z" fill="#4d8fc4"/>
<polyline points="256.5,147.2 262.6,147.0 264.0,140.0 265.0,130.0 266.0,121.4 267.2,124.0 268.6,134.0 270.0,139.0 272.0,142.5 275.0,144.5 280.0,145.0 285.0,145.0 289.7,142.5 293.1,134.0 296.5,122.2 299.9,115.4 302.0,113.8 304.5,121.7 306.5,110.0 308.5,92.0 309.9,86.0 311.5,92.0 314.0,110.0 316.0,124.0 317.8,132.6 319.5,128.0 321.0,118.0 322.5,100.0 323.2,90.0 324.0,80.0 325.0,65.0 326.0,52.0 327.0,46.0 328.0,50.0 329.0,62.0 330.4,80.0 332.0,95.0 334.7,113.8 337.7,124.7 340.0,127.7 344.0,126.7 347.0,131.7 350.0,138.6 352.9,142.6 355.9,141.6 359.9,138.6 362.8,137.6 365.8,138.6 369.8,135.6 373.8,133.2 376.8,131.7 379.7,127.7 382.7,121.7 384.7,116.8 387.7,120.7 390.7,124.7 393.6,121.7 395.6,117.8 397.6,105.8 399.6,89.9 401.0,83.0 402.6,80.5 404.6,82.0 407.6,93.9 410.5,105.8 413.5,119.7 416.5,130.7 419.5,132.7 422.5,132.1 425.4,134.6 429.4,138.6 433.4,140.6 437.4,141.6 440.3,140.6 443.3,137.6 447.3,130.7 451.3,121.7 454.8,114.8" fill="none" stroke="#f07d16" stroke-width="1.75" stroke-linejoin="round" stroke-linecap="round" />
<polyline points="262.6,145.6 264.0,139.8 265.0,129.8 266.0,120.8 267.2,123.8 268.6,133.8 270.0,138.8 272.0,143.0 275.0,145.0 285.0,145.5 289.7,141.2 293.1,132.2 296.5,119.2 299.9,111.2 302.0,110.2 304.5,118.2 306.5,106.2 308.5,88.2 309.9,81.2 311.5,88.2 314.0,110.0 316.0,125.0 317.8,133.0 319.5,127.0 321.0,116.0 322.5,98.0 323.2,88.0 324.0,76.0 325.0,60.0 326.0,48.0 327.0,44.0 328.0,48.0 329.0,60.0 330.4,78.0 332.0,98.0 334.0,118.0 335.7,128.7" fill="none" stroke="#d62728" stroke-width="1.0" stroke-linejoin="round" stroke-linecap="round" />
<line x1="327.5" y1="24.4" x2="327.5" y2="147.4" stroke="#86c3e3" stroke-width="1.2"/>
<line x1="333.8" y1="24.4" x2="333.8" y2="147.4" stroke="#b5ead8" stroke-width="1.2"/>
<line x1="339.9" y1="24.4" x2="339.9" y2="147.4" stroke="#b574d6" stroke-width="1.2"/>
<line x1="345.9" y1="24.4" x2="345.9" y2="147.4" stroke="#f8dc55" stroke-width="1.2"/>
<line x1="351.7" y1="24.4" x2="351.7" y2="147.4" stroke="#fbc0bb" stroke-width="1.2"/>
<line x1="357.5" y1="24.4" x2="357.5" y2="147.4" stroke="#949bdc" stroke-width="1.2"/>
<line x1="400.3" y1="24.4" x2="400.3" y2="147.4" stroke="#86c3e3" stroke-width="1.2" stroke-dasharray="2.3 1.3"/>
<line x1="406.5" y1="24.4" x2="406.5" y2="147.4" stroke="#b5ead8" stroke-width="1.2" stroke-dasharray="2.3 1.3"/>
<line x1="412.5" y1="24.4" x2="412.5" y2="147.4" stroke="#b574d6" stroke-width="1.2" stroke-dasharray="2.3 1.3"/>
<line x1="418.2" y1="24.4" x2="418.2" y2="147.4" stroke="#f8dc55" stroke-width="1.2" stroke-dasharray="2.3 1.3"/>
<line x1="424.1" y1="24.4" x2="424.1" y2="147.4" stroke="#fbc0bb" stroke-width="1.2" stroke-dasharray="2.3 1.3"/>
<line x1="430.0" y1="24.4" x2="430.0" y2="147.4" stroke="#949bdc" stroke-width="1.2" stroke-dasharray="2.3 1.3"/>
</g>
<rect x="256.5" y="24.4" width="198.3" height="246.4" fill="none" stroke="#000" stroke-opacity="0.46" stroke-width="1"/>
<line x1="256.5" y1="147.4" x2="454.8" y2="147.4" stroke="#000" stroke-opacity="0.46" stroke-width="1"/>
<g clip-path="url(#cb1)">
<line x1="256.5" y1="161.4" x2="454.8" y2="161.4" stroke="#949bdc" stroke-width="1.2" stroke-dasharray="2.3 1.3"/>
<line x1="256.5" y1="172.4" x2="454.8" y2="172.4" stroke="#fbc0bb" stroke-width="1.2" stroke-dasharray="2.3 1.3"/>
<line x1="256.5" y1="183.4" x2="454.8" y2="183.4" stroke="#f8dc55" stroke-width="1.2" stroke-dasharray="2.3 1.3"/>
<line x1="256.5" y1="194.5" x2="454.8" y2="194.5" stroke="#b574d6" stroke-width="1.2" stroke-dasharray="2.3 1.3"/>
<line x1="256.5" y1="205.5" x2="454.8" y2="205.5" stroke="#b5ead8" stroke-width="1.2" stroke-dasharray="2.3 1.3"/>
<line x1="256.5" y1="212.5" x2="454.8" y2="212.5" stroke="#86c3e3" stroke-width="1.2" stroke-dasharray="2.3 1.3"/>
<line x1="256.5" y1="216.4" x2="454.8" y2="216.4" stroke="#949bdc" stroke-width="1.2"/>
<line x1="256.5" y1="227.5" x2="454.8" y2="227.5" stroke="#fbc0bb" stroke-width="1.2"/>
<line x1="256.5" y1="238.3" x2="454.8" y2="238.3" stroke="#f8dc55" stroke-width="1.2"/>
<line x1="256.5" y1="248.9" x2="454.8" y2="248.9" stroke="#b574d6" stroke-width="1.2"/>
<line x1="256.5" y1="259.9" x2="454.8" y2="259.9" stroke="#b5ead8" stroke-width="1.2"/>
<line x1="256.5" y1="267.4" x2="454.8" y2="267.4" stroke="#86c3e3" stroke-width="1.2"/>
<line x1="327.5" y1="147.4" x2="327.5" y2="270.8" stroke="#86c3e3" stroke-width="1.2"/>
<line x1="333.8" y1="147.4" x2="333.8" y2="270.8" stroke="#b5ead8" stroke-width="1.2"/>
<line x1="339.9" y1="147.4" x2="339.9" y2="270.8" stroke="#b574d6" stroke-width="1.2"/>
<line x1="345.9" y1="147.4" x2="345.9" y2="270.8" stroke="#f8dc55" stroke-width="1.2"/>
<line x1="351.7" y1="147.4" x2="351.7" y2="270.8" stroke="#fbc0bb" stroke-width="1.2"/>
<line x1="357.5" y1="147.4" x2="357.5" y2="270.8" stroke="#949bdc" stroke-width="1.2"/>
<line x1="400.3" y1="147.4" x2="400.3" y2="270.8" stroke="#86c3e3" stroke-width="1.2" stroke-dasharray="2.3 1.3"/>
<line x1="406.5" y1="147.4" x2="406.5" y2="270.8" stroke="#b5ead8" stroke-width="1.2" stroke-dasharray="2.3 1.3"/>
<line x1="412.5" y1="147.4" x2="412.5" y2="270.8" stroke="#b574d6" stroke-width="1.2" stroke-dasharray="2.3 1.3"/>
<line x1="418.2" y1="147.4" x2="418.2" y2="270.8" stroke="#f8dc55" stroke-width="1.2" stroke-dasharray="2.3 1.3"/>
<line x1="424.1" y1="147.4" x2="424.1" y2="270.8" stroke="#fbc0bb" stroke-width="1.2" stroke-dasharray="2.3 1.3"/>
<line x1="430.0" y1="147.4" x2="430.0" y2="270.8" stroke="#949bdc" stroke-width="1.2" stroke-dasharray="2.3 1.3"/>
<polyline points="362.3,216.4 366.7,218.5 370.5,223.2 373.2,227.3 380.5,241.9 387.8,254.7 395.1,265.6 398.8,270.5 404.3,269.3 409.7,263.8 415.2,252.8 420.7,243.7 426.2,230.9 431.6,220.0 435.3,216.3 440.8,220.0 446.2,227.3 451.7,236.4 455.0,240.5" fill="none" stroke="#8c564b" stroke-width="1.4" stroke-linejoin="round" stroke-linecap="round" />
<polyline points="256.5,270.8 328.7,270.8 334.4,266.9 339.1,259.3 340.1,258.4 344.4,248.9 345.8,248.3 349.6,238.4 350.9,237.5 355.8,227.0 357.2,226.4 362.3,216.4 400.3,216.4 406.4,211.7 411.2,205.4 412.5,204.8 416.9,194.5 418.2,194.0 421.6,183.5 423.9,183.1 427.3,173.1 429.8,172.1 434.9,161.7 455.0,161.7" fill="none" stroke="#2ca02c" stroke-width="1.5" stroke-linejoin="round" stroke-linecap="round" />
</g>
<line x1="327.5" y1="22.2" x2="327.5" y2="24.4" stroke="#444" stroke-width="0.8"/>
<line x1="333.8" y1="22.2" x2="333.8" y2="24.4" stroke="#444" stroke-width="0.8"/>
<line x1="339.9" y1="22.2" x2="339.9" y2="24.4" stroke="#444" stroke-width="0.8"/>
<line x1="345.9" y1="22.2" x2="345.9" y2="24.4" stroke="#444" stroke-width="0.8"/>
<line x1="351.7" y1="22.2" x2="351.7" y2="24.4" stroke="#444" stroke-width="0.8"/>
<line x1="357.5" y1="22.2" x2="357.5" y2="24.4" stroke="#444" stroke-width="0.8"/>
<line x1="400.3" y1="22.2" x2="400.3" y2="24.4" stroke="#444" stroke-width="0.8"/>
<line x1="406.5" y1="22.2" x2="406.5" y2="24.4" stroke="#444" stroke-width="0.8"/>
<line x1="412.5" y1="22.2" x2="412.5" y2="24.4" stroke="#444" stroke-width="0.8"/>
<line x1="418.2" y1="22.2" x2="418.2" y2="24.4" stroke="#444" stroke-width="0.8"/>
<line x1="424.1" y1="22.2" x2="424.1" y2="24.4" stroke="#444" stroke-width="0.8"/>
<line x1="430.0" y1="22.2" x2="430.0" y2="24.4" stroke="#444" stroke-width="0.8"/>
<text x="327.5" y="19.0" font-size="9.0" font-weight="normal" text-anchor="middle" fill="#000" textLength="5.5" lengthAdjust="spacingAndGlyphs"  stroke="#000" stroke-width="0.06">1</text>
<text x="333.8" y="19.0" font-size="9.0" font-weight="normal" text-anchor="middle" fill="#000" textLength="5.5" lengthAdjust="spacingAndGlyphs"  stroke="#000" stroke-width="0.06">2</text>
<text x="339.9" y="19.0" font-size="9.0" font-weight="normal" text-anchor="middle" fill="#000" textLength="5.5" lengthAdjust="spacingAndGlyphs"  stroke="#000" stroke-width="0.06">3</text>
<text x="345.9" y="19.0" font-size="9.0" font-weight="normal" text-anchor="middle" fill="#000" textLength="5.5" lengthAdjust="spacingAndGlyphs"  stroke="#000" stroke-width="0.06">4</text>
<text x="351.7" y="19.0" font-size="9.0" font-weight="normal" text-anchor="middle" fill="#000" textLength="5.5" lengthAdjust="spacingAndGlyphs"  stroke="#000" stroke-width="0.06">5</text>
<text x="357.5" y="19.0" font-size="9.0" font-weight="normal" text-anchor="middle" fill="#000" textLength="5.5" lengthAdjust="spacingAndGlyphs"  stroke="#000" stroke-width="0.06">6</text>
<text x="400.3" y="19.0" font-size="9.0" font-weight="normal" text-anchor="middle" fill="#000" textLength="5.5" lengthAdjust="spacingAndGlyphs"  stroke="#000" stroke-width="0.06">1</text>
<text x="406.5" y="19.0" font-size="9.0" font-weight="normal" text-anchor="middle" fill="#000" textLength="5.5" lengthAdjust="spacingAndGlyphs"  stroke="#000" stroke-width="0.06">2</text>
<text x="412.5" y="19.0" font-size="9.0" font-weight="normal" text-anchor="middle" fill="#000" textLength="5.5" lengthAdjust="spacingAndGlyphs"  stroke="#000" stroke-width="0.06">3</text>
<text x="418.2" y="19.0" font-size="9.0" font-weight="normal" text-anchor="middle" fill="#000" textLength="5.5" lengthAdjust="spacingAndGlyphs"  stroke="#000" stroke-width="0.06">4</text>
<text x="424.1" y="19.0" font-size="9.0" font-weight="normal" text-anchor="middle" fill="#000" textLength="5.5" lengthAdjust="spacingAndGlyphs"  stroke="#000" stroke-width="0.06">5</text>
<text x="430.0" y="19.0" font-size="9.0" font-weight="normal" text-anchor="middle" fill="#000" textLength="5.5" lengthAdjust="spacingAndGlyphs"  stroke="#000" stroke-width="0.06">6</text>
<text x="355.8" y="9.4" font-size="11.0" font-weight="bold" text-anchor="middle" fill="#000" textLength="33.8" lengthAdjust="spacingAndGlyphs"  stroke="#000" stroke-width="0.35">Spain</text>
<text x="257.8" y="20.1" font-size="10.2" font-weight="bold" text-anchor="start" fill="#000" textLength="31.2" lengthAdjust="spacingAndGlyphs"  stroke="#000" stroke-width="0.35">Stage</text>
<line x1="291.8" y1="17.0" x2="306.0" y2="17.0" stroke="#111" stroke-width="1.2"/>
<polygon points="304.8,14.1 310.5,17.0 304.8,19.9" fill="#111"/>
<text x="259.3" y="36.8" font-size="10.6" font-weight="bold" text-anchor="start" fill="#000" textLength="16.6" lengthAdjust="spacingAndGlyphs"  stroke="#000" stroke-width="0.35">(C)</text>
<text x="258.7" y="160.0" font-size="10.6" font-weight="bold" text-anchor="start" fill="#000" textLength="16.6" lengthAdjust="spacingAndGlyphs"  stroke="#000" stroke-width="0.35">(D)</text>
<line x1="254.3" y1="147.4" x2="256.5" y2="147.4" stroke="#444" stroke-width="0.8"/>
<text x="251.9" y="150.6" font-size="9.0" font-weight="normal" text-anchor="end" fill="#000" textLength="5.3" lengthAdjust="spacingAndGlyphs"  stroke="#000" stroke-width="0.06">0</text>
<line x1="254.3" y1="116.80000000000001" x2="256.5" y2="116.80000000000001" stroke="#444" stroke-width="0.8"/>
<text x="251.9" y="120.00000000000001" font-size="9.0" font-weight="normal" text-anchor="end" fill="#000" textLength="5.3" lengthAdjust="spacingAndGlyphs"  stroke="#000" stroke-width="0.06">1</text>
<line x1="254.3" y1="86.2" x2="256.5" y2="86.2" stroke="#444" stroke-width="0.8"/>
<text x="251.9" y="89.4" font-size="9.0" font-weight="normal" text-anchor="end" fill="#000" textLength="5.3" lengthAdjust="spacingAndGlyphs"  stroke="#000" stroke-width="0.06">2</text>
<line x1="254.3" y1="55.599999999999994" x2="256.5" y2="55.599999999999994" stroke="#444" stroke-width="0.8"/>
<text x="251.9" y="58.8" font-size="9.0" font-weight="normal" text-anchor="end" fill="#000" textLength="5.3" lengthAdjust="spacingAndGlyphs"  stroke="#000" stroke-width="0.06">3</text>
<line x1="254.3" y1="25.0" x2="256.5" y2="25.0" stroke="#444" stroke-width="0.8"/>
<text x="251.9" y="28.2" font-size="9.0" font-weight="normal" text-anchor="end" fill="#000" textLength="5.3" lengthAdjust="spacingAndGlyphs"  stroke="#000" stroke-width="0.06">4</text>
<line x1="254.3" y1="270.8" x2="256.5" y2="270.8" stroke="#444" stroke-width="0.8"/>
<text x="252.1" y="273.8" font-size="9.0" font-weight="normal" text-anchor="end" fill="#000" textLength="5.15" lengthAdjust="spacingAndGlyphs"  stroke="#000" stroke-width="0.06">0</text>
<line x1="254.3" y1="238.10000000000002" x2="256.5" y2="238.10000000000002" stroke="#444" stroke-width="0.8"/>
<text x="252.1" y="241.10000000000002" font-size="9.0" font-weight="normal" text-anchor="end" fill="#000" textLength="10.3" lengthAdjust="spacingAndGlyphs"  stroke="#000" stroke-width="0.06">20</text>
<line x1="254.3" y1="205.4" x2="256.5" y2="205.4" stroke="#444" stroke-width="0.8"/>
<text x="252.1" y="208.4" font-size="9.0" font-weight="normal" text-anchor="end" fill="#000" textLength="10.3" lengthAdjust="spacingAndGlyphs"  stroke="#000" stroke-width="0.06">40</text>
<line x1="254.3" y1="172.70000000000002" x2="256.5" y2="172.70000000000002" stroke="#444" stroke-width="0.8"/>
<text x="252.1" y="175.70000000000002" font-size="9.0" font-weight="normal" text-anchor="end" fill="#000" textLength="10.3" lengthAdjust="spacingAndGlyphs"  stroke="#000" stroke-width="0.06">60</text>
<line x1="256.5" y1="270.8" x2="256.5" y2="273.40000000000003" stroke="#444" stroke-width="0.8"/>
<text x="256.5" y="280.9" font-size="9.0" font-weight="normal" text-anchor="middle" fill="#000" textLength="5.5" lengthAdjust="spacingAndGlyphs"  stroke="#000" stroke-width="0.06">0</text>
<line x1="296.16" y1="270.8" x2="296.16" y2="273.40000000000003" stroke="#444" stroke-width="0.8"/>
<text x="296.16" y="280.9" font-size="9.0" font-weight="normal" text-anchor="middle" fill="#000" textLength="16.5" lengthAdjust="spacingAndGlyphs"  stroke="#000" stroke-width="0.06">200</text>
<line x1="335.82" y1="270.8" x2="335.82" y2="273.40000000000003" stroke="#444" stroke-width="0.8"/>
<text x="335.82" y="280.9" font-size="9.0" font-weight="normal" text-anchor="middle" fill="#000" textLength="16.5" lengthAdjust="spacingAndGlyphs"  stroke="#000" stroke-width="0.06">400</text>
<line x1="375.48" y1="270.8" x2="375.48" y2="273.40000000000003" stroke="#444" stroke-width="0.8"/>
<text x="375.48" y="280.9" font-size="9.0" font-weight="normal" text-anchor="middle" fill="#000" textLength="16.5" lengthAdjust="spacingAndGlyphs"  stroke="#000" stroke-width="0.06">600</text>
<line x1="415.14" y1="270.8" x2="415.14" y2="273.40000000000003" stroke="#444" stroke-width="0.8"/>
<text x="415.14" y="280.9" font-size="9.0" font-weight="normal" text-anchor="middle" fill="#000" textLength="16.5" lengthAdjust="spacingAndGlyphs"  stroke="#000" stroke-width="0.06">800</text>
<line x1="454.8" y1="270.8" x2="454.8" y2="273.40000000000003" stroke="#444" stroke-width="0.8"/>
<text x="454.8" y="280.9" font-size="8.8" font-weight="normal" text-anchor="middle" fill="#000" textLength="21.2" lengthAdjust="spacingAndGlyphs"  stroke="#000" stroke-width="0.06">1000</text>
<text x="355.65" y="292.2" font-size="9.8" font-weight="bold" text-anchor="middle" fill="#000" textLength="65" lengthAdjust="spacingAndGlyphs"  stroke="#000" stroke-width="0.35">Time (days)</text>
<clipPath id="ct2"><rect x="474.8" y="24.4" width="198.59999999999997" height="123.6"/></clipPath>
<clipPath id="cb2"><rect x="473.8" y="147.4" width="200.59999999999997" height="124.60000000000001"/></clipPath>
<g clip-path="url(#ct2)">
<line x1="474.8" y1="123.30000000000001" x2="673.4" y2="123.30000000000001" stroke="#dedede" stroke-width="0.8" stroke-dasharray="1 1"/>
<line x1="474.8" y1="99.2" x2="673.4" y2="99.2" stroke="#dedede" stroke-width="0.8" stroke-dasharray="1 1"/>
<line x1="474.8" y1="75.1" x2="673.4" y2="75.1" stroke="#dedede" stroke-width="0.8" stroke-dasharray="1 1"/>
<line x1="474.8" y1="51.0" x2="673.4" y2="51.0" stroke="#dedede" stroke-width="0.8" stroke-dasharray="1 1"/>
<line x1="474.8" y1="26.900000000000006" x2="673.4" y2="26.900000000000006" stroke="#dedede" stroke-width="0.8" stroke-dasharray="1 1"/>
<polygon points="474.8,147.4 483.0,147.0 484.5,140.0 486.7,132.7 490.3,114.6 495.7,101.9 501.2,89.2 506.6,82.0 510.0,82.0 512.0,85.6 515.7,98.3 519.3,109.2 522.9,112.8 526.5,103.7 528.3,94.7 531.2,83.8 533.8,66.0 536.3,57.0 538.5,48.0 540.5,38.0 542.5,31.0 544.5,36.0 546.5,45.7 548.5,57.0 550.0,67.5 553.0,96.5 555.5,114.6 559.1,129.0 564.6,136.3 566.9,139.6 571.9,140.6 574.8,136.6 577.8,133.6 581.8,130.7 585.8,128.7 588.8,127.7 591.7,132.7 594.7,134.6 597.7,132.7 600.7,135.6 603.7,137.6 607.6,138.6 611.6,140.6 613.6,137.6 615.6,127.7 618.6,118.7 621.5,113.8 624.5,111.8 627.5,114.8 630.5,119.7 633.5,124.7 637.4,127.7 641.4,128.7 645.4,130.7 649.4,137.6 653.3,140.6 657.3,139.6 661.3,136.6 665.3,132.7 669.2,129.7 674.0,130.7 674.0,146.0 640.0,147.4 635.4,146.6 631.5,143.6 627.5,139.6 623.5,136.6 619.6,139.6 615.6,145.6 612.0,147.4 560.0,147.4 556.0,143.6 552.0,135.6 548.0,125.0 545.0,105.0 540.0,147.4" fill="#fde9d6" />
<path d="M480.96,147.4L480.96,146.80L481.16,146.80L481.16,147.10L481.35,147.10L481.35,146.65L481.55,146.65L481.55,146.17L481.75,146.17L481.75,145.76L481.95,145.76L481.95,145.26L482.15,145.26L482.15,145.39L482.35,145.39L482.35,146.55L482.55,146.55L482.55,146.48L482.74,146.48L482.74,146.78L482.94,146.78L482.94,146.75L483.14,146.75L483.14,145.92L483.34,145.92L483.34,145.48L483.54,145.48L483.54,143.89L483.74,143.89L483.74,144.93L483.94,144.93L483.94,145.23L484.13,145.23L484.13,145.41L484.33,145.41L484.33,145.54L484.53,145.54L484.53,144.04L484.73,144.04L484.73,142.26L484.93,142.26L484.93,142.00L485.13,142.00L485.13,142.71L485.33,142.71L485.33,142.80L485.52,142.80L485.52,143.54L485.72,143.54L485.72,143.98L485.92,143.98L485.92,141.20L486.12,141.20L486.12,141.87L486.32,141.87L486.32,139.77L486.52,139.77L486.52,141.31L486.72,141.31L486.72,141.56L486.91,141.56L486.91,141.95L487.11,141.95L487.11,142.73L487.31,142.73L487.31,139.36L487.51,139.36L487.51,138.02L487.71,138.02L487.71,138.27L487.91,138.27L487.91,143.54L488.11,143.54L488.11,139.57L488.30,139.57L488.30,141.48L488.50,141.48L488.50,141.08L488.70,141.08L488.70,136.65L488.90,136.65L488.90,137.19L489.10,137.19L489.10,136.80L489.30,136.80L489.30,136.99L489.50,136.99L489.50,137.25L489.69,137.25L489.69,139.49L489.89,139.49L489.89,139.96L490.09,139.96L490.09,136.24L490.29,136.24L490.29,134.67L490.49,134.67L490.49,136.24L490.69,136.24L490.69,140.17L490.89,140.17L490.89,135.31L491.09,135.31L491.09,137.77L491.28,137.77L491.28,138.72L491.48,138.72L491.48,132.96L491.68,132.96L491.68,134.28L491.88,134.28L491.88,132.04L492.08,132.04L492.08,134.14L492.28,134.14L492.28,133.53L492.48,133.53L492.48,136.96L492.67,136.96L492.67,138.11L492.87,138.11L492.87,132.36L493.07,132.36L493.07,137.08L493.27,137.08L493.27,129.62L493.47,129.62L493.47,132.40L493.67,132.40L493.67,132.95L493.87,132.95L493.87,135.35L494.06,135.35L494.06,137.59L494.26,137.59L494.26,130.27L494.46,130.27L494.46,128.56L494.66,128.56L494.66,129.98L494.86,129.98L494.86,128.72L495.06,128.72L495.06,130.33L495.26,130.33L495.26,134.96L495.45,134.96L495.45,136.19L495.65,136.19L495.65,125.91L495.85,125.91L495.85,127.26L496.05,127.26L496.05,125.61L496.25,125.61L496.25,128.03L496.45,128.03L496.45,129.05L496.65,129.05L496.65,132.92L496.84,132.92L496.84,134.09L497.04,134.09L497.04,125.55L497.24,125.55L497.24,132.40L497.44,132.40L497.44,121.55L497.64,121.55L497.64,125.18L497.84,125.18L497.84,123.55L498.04,123.55L498.04,129.26L498.23,129.26L498.23,131.65L498.43,131.65L498.43,123.78L498.63,123.78L498.63,122.52L498.83,122.52L498.83,120.53L499.03,120.53L499.03,120.46L499.23,120.46L499.23,121.02L499.43,121.02L499.43,126.39L499.62,126.39L499.62,128.88L499.82,128.88L499.82,122.87L500.02,122.87L500.02,120.00L500.22,120.00L500.22,116.82L500.42,116.82L500.42,119.96L500.62,119.96L500.62,119.84L500.82,119.84L500.82,127.42L501.02,127.42L501.02,128.72L501.21,128.72L501.21,117.67L501.41,117.67L501.41,114.15L501.61,114.15L501.61,117.40L501.81,117.40L501.81,113.29L502.01,113.29L502.01,128.66L502.21,128.66L502.21,122.13L502.41,122.13L502.41,128.07L502.60,128.07L502.60,113.81L502.80,113.81L502.80,112.13L503.00,112.13L503.00,116.69L503.20,116.69L503.20,117.36L503.40,117.36L503.40,119.26L503.60,119.26L503.60,120.60L503.80,120.60L503.80,125.68L503.99,125.68L503.99,113.57L504.19,113.57L504.19,108.42L504.39,108.42L504.39,111.66L504.59,111.66L504.59,113.87L504.79,113.87L504.79,113.71L504.99,113.71L504.99,122.01L505.19,122.01L505.19,126.22L505.38,126.22L505.38,109.06L505.58,109.06L505.58,108.81L505.78,108.81L505.78,107.26L505.98,107.26L505.98,111.69L506.18,111.69L506.18,110.70L506.38,110.70L506.38,118.63L506.58,118.63L506.58,124.74L506.77,124.74L506.77,106.24L506.97,106.24L506.97,106.57L507.17,106.57L507.17,105.35L507.37,105.35L507.37,105.81L507.57,105.81L507.57,112.31L507.77,112.31L507.77,117.84L507.97,117.84L507.97,121.31L508.16,121.31L508.16,107.41L508.36,107.41L508.36,106.81L508.56,106.81L508.56,112.89L508.76,112.89L508.76,108.42L508.96,108.42L508.96,116.45L509.16,116.45L509.16,118.45L509.36,118.45L509.36,127.09L509.56,127.09L509.56,113.98L509.75,113.98L509.75,108.35L509.95,108.35L509.95,110.05L510.15,110.05L510.15,110.71L510.35,110.71L510.35,113.51L510.55,113.51L510.55,121.01L510.75,121.01L510.75,128.16L510.95,128.16L510.95,112.40L511.14,112.40L511.14,113.63L511.34,113.63L511.34,114.75L511.54,114.75L511.54,112.73L511.74,112.73L511.74,118.01L511.94,118.01L511.94,124.58L512.14,124.58L512.14,127.31L512.34,127.31L512.34,115.90L512.53,115.90L512.53,116.55L512.73,116.55L512.73,114.06L512.93,114.06L512.93,117.45L513.13,117.45L513.13,116.54L513.33,116.54L513.33,127.70L513.53,127.70L513.53,126.63L513.73,126.63L513.73,117.48L513.92,117.48L513.92,118.04L514.12,118.04L514.12,118.91L514.32,118.91L514.32,120.07L514.52,120.07L514.52,119.39L514.72,119.39L514.72,127.68L514.92,127.68L514.92,129.84L515.12,129.84L515.12,118.10L515.31,118.10L515.31,120.92L515.51,120.92L515.51,119.42L515.71,119.42L515.71,121.60L515.91,121.60L515.91,120.88L516.11,120.88L516.11,125.96L516.31,125.96L516.31,130.49L516.51,130.49L516.51,119.77L516.70,119.77L516.70,119.52L516.90,119.52L516.90,121.60L517.10,121.60L517.10,120.86L517.30,120.86L517.30,126.05L517.50,126.05L517.50,129.11L517.70,129.11L517.70,131.02L517.90,131.02L517.90,125.10L518.09,125.10L518.09,124.22L518.29,124.22L518.29,121.03L518.49,121.03L518.49,123.17L518.69,123.17L518.69,127.07L518.89,127.07L518.89,133.06L519.09,133.06L519.09,132.21L519.29,132.21L519.29,125.12L519.49,125.12L519.49,134.53L519.68,134.53L519.68,123.39L519.88,123.39L519.88,125.83L520.08,125.83L520.08,122.81L520.28,122.81L520.28,129.69L520.48,129.69L520.48,132.76L520.68,132.76L520.68,124.39L520.88,124.39L520.88,117.64L521.07,117.64L521.07,117.83L521.27,117.83L521.27,120.34L521.47,120.34L521.47,124.33L521.67,124.33L521.67,127.54L521.87,127.54L521.87,131.45L522.07,131.45L522.07,116.67L522.27,116.67L522.27,117.63L522.46,117.63L522.46,118.35L522.66,118.35L522.66,118.35L522.86,118.35L522.86,120.64L523.06,120.64L523.06,125.90L523.26,125.90L523.26,130.49L523.46,130.49L523.46,116.33L523.66,116.33L523.66,112.15L523.85,112.15L523.85,117.22L524.05,117.22L524.05,116.89L524.25,116.89L524.25,117.97L524.45,117.97L524.45,126.00L524.65,126.00L524.65,129.71L524.85,129.71L524.85,113.18L525.05,113.18L525.05,111.60L525.24,111.60L525.24,116.59L525.44,116.59L525.44,114.39L525.64,114.39L525.64,119.08L525.84,119.08L525.84,124.16L526.04,124.16L526.04,129.32L526.24,129.32L526.24,116.97L526.44,116.97L526.44,117.08L526.63,117.08L526.63,119.94L526.83,119.94L526.83,122.01L527.03,122.01L527.03,119.82L527.23,119.82L527.23,129.36L527.43,129.36L527.43,131.28L527.63,131.28L527.63,119.76L527.83,119.76L527.83,120.70L528.02,120.70L528.02,123.48L528.22,123.48L528.22,125.14L528.42,125.14L528.42,128.80L528.62,128.80L528.62,136.34L528.82,136.34L528.82,130.72L529.02,130.72L529.02,121.61L529.22,121.61L529.22,116.85L529.42,116.85L529.41,112.62L529.61,112.62L529.61,116.53L529.81,116.53L529.81,113.96L530.01,113.96L530.01,128.43L530.21,128.43L530.21,119.47L530.41,119.47L530.41,100.47L530.61,100.47L530.61,101.10L530.81,101.10L530.81,103.46L531.00,103.46L531.00,98.68L531.20,98.68L531.20,101.61L531.40,101.61L531.40,108.37L531.60,108.37L531.60,113.64L531.80,113.64L531.80,101.22L532.00,101.22L532.00,95.73L532.20,95.73L532.20,92.67L532.39,92.67L532.39,98.29L532.59,98.29L532.59,96.34L532.79,96.34L532.79,105.74L532.99,105.74L532.99,110.23L533.19,110.23L533.19,88.21L533.39,88.21L533.39,88.37L533.59,88.37L533.59,88.47L533.78,88.47L533.78,99.12L533.98,99.12L533.98,99.66L534.18,99.66L534.18,107.23L534.38,107.23L534.38,111.97L534.58,111.97L534.58,88.45L534.78,88.45L534.78,87.78L534.98,87.78L534.98,90.10L535.17,90.10L535.17,86.95L535.37,86.95L535.37,96.93L535.57,96.93L535.57,106.37L535.77,106.37L535.77,132.02L535.97,132.02L535.97,85.72L536.17,85.72L536.17,86.74L536.37,86.74L536.37,91.59L536.56,91.59L536.56,92.11L536.76,92.11L536.76,99.80L536.96,99.80L536.96,108.64L537.16,108.64L537.16,129.76L537.36,129.76L537.36,88.68L537.56,88.68L537.56,90.59L537.76,90.59L537.76,105.46L537.95,105.46L537.95,92.28L538.15,92.28L538.15,90.66L538.35,90.66L538.35,100.50L538.55,100.50L538.55,110.45L538.75,110.45L538.75,76.57L538.95,76.57L538.95,70.04L539.15,70.04L539.15,67.93L539.35,67.93L539.35,82.61L539.54,82.61L539.54,75.52L539.74,75.52L539.74,95.72L539.94,95.72L539.94,97.15L540.14,97.15L540.14,113.92L540.34,113.92L540.34,69.19L540.54,69.19L540.54,70.85L540.74,70.85L540.74,62.31L540.93,62.31L540.93,74.45L541.13,74.45L541.13,85.51L541.33,85.51L541.33,86.82L541.53,86.82L541.53,67.87L541.73,67.87L541.73,50.55L541.93,50.55L541.93,64.52L542.13,64.52L542.13,53.87L542.32,53.87L542.32,68.15L542.52,68.15L542.52,81.96L542.72,81.96L542.72,97.98L542.92,97.98L542.92,60.05L543.12,60.05L543.12,62.51L543.32,62.51L543.32,69.14L543.52,69.14L543.52,70.93L543.71,70.93L543.71,82.13L543.91,82.13L543.91,92.00L544.11,92.00L544.11,103.07L544.31,103.07L544.31,82.08L544.51,82.08L544.51,83.19L544.71,83.19L544.71,80.46L544.91,80.46L544.91,89.79L545.10,89.79L545.10,89.74L545.30,89.74L545.30,101.94L545.50,101.94L545.50,108.87L545.70,108.87L545.70,94.17L545.90,94.17L545.90,96.32L546.10,96.32L546.10,91.79L546.30,91.79L546.30,102.79L546.49,102.79L546.49,100.68L546.69,100.68L546.69,116.95L546.89,116.95L546.89,117.53L547.09,117.53L547.09,106.69L547.29,106.69L547.29,98.52L547.49,98.52L547.49,102.04L547.69,102.04L547.69,103.46L547.88,103.46L547.88,107.12L548.08,107.12L548.08,119.01L548.28,119.01L548.28,118.85L548.48,118.85L548.48,109.94L548.68,109.94L548.68,106.55L548.88,106.55L548.88,109.28L549.08,109.28L549.08,110.63L549.28,110.63L549.27,109.48L549.47,109.48L549.47,117.03L549.67,117.03L549.67,123.58L549.87,123.58L549.87,106.98L550.07,106.98L550.07,108.59L550.27,108.59L550.27,108.47L550.47,108.47L550.47,113.81L550.67,113.81L550.67,112.66L550.86,112.66L550.86,120.17L551.06,120.17L551.06,124.66L551.26,124.66L551.26,112.12L551.46,112.12L551.46,112.61L551.66,112.61L551.66,113.62L551.86,113.62L551.86,112.69L552.06,112.69L552.06,112.60L552.25,112.60L552.25,147.4Z" fill="#4d8fc4"/>
<polyline points="474.8,147.2 483.0,147.0 485.9,143.6 489.9,136.6 493.9,131.7 497.8,126.7 501.8,118.7 506.8,112.8 509.8,114.8 513.7,119.7 518.7,125.7 522.7,122.7 526.0,115.8 528.9,114.8 530.9,104.0 532.5,99.0 534.9,95.3 537.0,95.5 538.5,93.0 540.0,84.0 541.2,72.0 542.5,63.0 543.5,63.5 545.0,72.0 547.6,90.0 550.7,110.0 553.9,123.0 556.0,131.7 560.0,137.6 563.9,141.6 567.9,143.6 571.9,144.6 575.8,143.2 581.8,140.6 586.8,138.6 590.7,139.6 593.7,142.0 596.2,141.2 599.6,142.2 605.5,143.4 612.3,144.2 615.7,141.7 619.0,136.6 622.5,132.7 625.0,131.5 628.4,133.7 631.8,135.4 635.2,137.8 641.9,139.5 647.0,142.5 652.1,144.6 657.2,145.1 662.3,143.9 667.4,140.8 670.8,139.5 673.4,140.0" fill="none" stroke="#f07d16" stroke-width="1.75" stroke-linejoin="round" stroke-linecap="round" />
<polyline points="483.0,146.5 487.0,139.9 490.0,135.9 493.0,131.9 496.0,127.9 499.0,122.9 502.0,116.9 505.0,112.9 507.0,110.4 509.0,111.9 511.0,114.9 513.0,117.9 515.0,119.9 517.0,122.9 519.0,125.9 521.0,122.9 523.0,119.9 525.0,118.0 527.0,121.0 528.6,127.7 529.5,120.0 530.5,105.0 532.0,100.0 534.0,96.0 536.0,95.0 538.0,92.0 539.5,82.0 540.5,72.0 541.5,66.0 542.5,66.0 544.0,78.0 545.5,95.0 547.0,105.0 549.0,110.0 550.5,112.0 551.5,114.0" fill="none" stroke="#d62728" stroke-width="1.0" stroke-linejoin="round" stroke-linecap="round" />
<line x1="540.4" y1="24.4" x2="540.4" y2="147.4" stroke="#86c3e3" stroke-width="1.2"/>
<line x1="546.4" y1="24.4" x2="546.4" y2="147.4" stroke="#b5ead8" stroke-width="1.2"/>
<line x1="552.3" y1="24.4" x2="552.3" y2="147.4" stroke="#b574d6" stroke-width="1.2"/>
<line x1="558.2" y1="24.4" x2="558.2" y2="147.4" stroke="#f8dc55" stroke-width="1.2"/>
<line x1="564.2" y1="24.4" x2="564.2" y2="147.4" stroke="#fbc0bb" stroke-width="1.2"/>
<line x1="612.7" y1="24.4" x2="612.7" y2="147.4" stroke="#86c3e3" stroke-width="1.2" stroke-dasharray="2.3 1.3"/>
<line x1="618.7" y1="24.4" x2="618.7" y2="147.4" stroke="#b5ead8" stroke-width="1.2" stroke-dasharray="2.3 1.3"/>
<line x1="624.6" y1="24.4" x2="624.6" y2="147.4" stroke="#b574d6" stroke-width="1.2" stroke-dasharray="2.3 1.3"/>
<line x1="630.4" y1="24.4" x2="630.4" y2="147.4" stroke="#f8dc55" stroke-width="1.2" stroke-dasharray="2.3 1.3"/>
<line x1="636.5" y1="24.4" x2="636.5" y2="147.4" stroke="#fbc0bb" stroke-width="1.2" stroke-dasharray="2.3 1.3"/>
</g>
<rect x="474.8" y="24.4" width="198.59999999999997" height="246.4" fill="none" stroke="#000" stroke-opacity="0.46" stroke-width="1"/>
<line x1="474.8" y1="147.4" x2="673.4" y2="147.4" stroke="#000" stroke-opacity="0.46" stroke-width="1"/>
<g clip-path="url(#cb2)">
<line x1="474.8" y1="154.6" x2="673.4" y2="154.6" stroke="#fbc0bb" stroke-width="1.2" stroke-dasharray="2.3 1.3"/>
<line x1="474.8" y1="191.3" x2="673.4" y2="191.3" stroke="#f8dc55" stroke-width="1.2" stroke-dasharray="2.3 1.3"/>
<line x1="474.8" y1="199.1" x2="673.4" y2="199.1" stroke="#b574d6" stroke-width="1.2" stroke-dasharray="2.3 1.3"/>
<line x1="474.8" y1="204.6" x2="673.4" y2="204.6" stroke="#b5ead8" stroke-width="1.2" stroke-dasharray="2.3 1.3"/>
<line x1="474.8" y1="213.3" x2="673.4" y2="213.3" stroke="#fbc0bb" stroke-width="1.2"/>
<line x1="474.8" y1="212.9" x2="673.4" y2="212.9" stroke="#86c3e3" stroke-width="1.2" stroke-dasharray="2.3 1.3"/>
<line x1="474.8" y1="249.4" x2="673.4" y2="249.4" stroke="#f8dc55" stroke-width="1.2"/>
<line x1="474.8" y1="256.7" x2="673.4" y2="256.7" stroke="#b574d6" stroke-width="1.2"/>
<line x1="474.8" y1="263.1" x2="673.4" y2="263.1" stroke="#b5ead8" stroke-width="1.2"/>
<line x1="474.8" y1="270.6" x2="673.4" y2="270.6" stroke="#86c3e3" stroke-width="1.2"/>
<line x1="540.4" y1="147.4" x2="540.4" y2="270.8" stroke="#86c3e3" stroke-width="1.2"/>
<line x1="546.4" y1="147.4" x2="546.4" y2="270.8" stroke="#b5ead8" stroke-width="1.2"/>
<line x1="552.3" y1="147.4" x2="552.3" y2="270.8" stroke="#b574d6" stroke-width="1.2"/>
<line x1="558.2" y1="147.4" x2="558.2" y2="270.8" stroke="#f8dc55" stroke-width="1.2"/>
<line x1="564.2" y1="147.4" x2="564.2" y2="270.8" stroke="#fbc0bb" stroke-width="1.2"/>
<line x1="612.7" y1="147.4" x2="612.7" y2="270.8" stroke="#86c3e3" stroke-width="1.2" stroke-dasharray="2.3 1.3"/>
<line x1="618.7" y1="147.4" x2="618.7" y2="270.8" stroke="#b5ead8" stroke-width="1.2" stroke-dasharray="2.3 1.3"/>
<line x1="624.6" y1="147.4" x2="624.6" y2="270.8" stroke="#b574d6" stroke-width="1.2" stroke-dasharray="2.3 1.3"/>
<line x1="630.4" y1="147.4" x2="630.4" y2="270.8" stroke="#f8dc55" stroke-width="1.2" stroke-dasharray="2.3 1.3"/>
<line x1="636.5" y1="147.4" x2="636.5" y2="270.8" stroke="#fbc0bb" stroke-width="1.2" stroke-dasharray="2.3 1.3"/>
<polyline points="582.6,232.2 587.3,235.8 594.7,236.6 600.1,238.4 605.6,241.3 612.9,246.4 618.4,251.9 624.0,248.6 631.2,246.4 640.4,243.9 647.7,237.7 654.3,232.2 660.5,235.5 667.8,236.6 674.0,239.1" fill="none" stroke="#8c564b" stroke-width="1.4" stroke-linejoin="round" stroke-linecap="round" />
<polyline points="474.8,270.8 546.3,270.8 551.9,263.8 555.5,259.3 559.2,254.7 562.8,250.4 566.5,246.3 570.2,242.0 573.8,238.5 578.0,235.0 582.6,232.2 587.0,228.6 592.0,223.6 598.0,218.2 604.5,212.8 619.0,212.8 622.0,207.5 625.6,201.8 631.0,195.8 636.5,190.1 642.0,184.0 647.5,178.1 653.0,173.3 658.4,169.6 664.0,165.6 669.0,161.4 674.0,157.2" fill="none" stroke="#2ca02c" stroke-width="1.5" stroke-linejoin="round" stroke-linecap="round" />
</g>
<line x1="540.4" y1="22.2" x2="540.4" y2="24.4" stroke="#444" stroke-width="0.8"/>
<line x1="546.4" y1="22.2" x2="546.4" y2="24.4" stroke="#444" stroke-width="0.8"/>
<line x1="552.3" y1="22.2" x2="552.3" y2="24.4" stroke="#444" stroke-width="0.8"/>
<line x1="558.2" y1="22.2" x2="558.2" y2="24.4" stroke="#444" stroke-width="0.8"/>
<line x1="564.2" y1="22.2" x2="564.2" y2="24.4" stroke="#444" stroke-width="0.8"/>
<line x1="612.7" y1="22.2" x2="612.7" y2="24.4" stroke="#444" stroke-width="0.8"/>
<line x1="618.7" y1="22.2" x2="618.7" y2="24.4" stroke="#444" stroke-width="0.8"/>
<line x1="624.6" y1="22.2" x2="624.6" y2="24.4" stroke="#444" stroke-width="0.8"/>
<line x1="630.4" y1="22.2" x2="630.4" y2="24.4" stroke="#444" stroke-width="0.8"/>
<line x1="636.5" y1="22.2" x2="636.5" y2="24.4" stroke="#444" stroke-width="0.8"/>
<text x="540.4" y="19.0" font-size="9.0" font-weight="normal" text-anchor="middle" fill="#000" textLength="5.5" lengthAdjust="spacingAndGlyphs"  stroke="#000" stroke-width="0.06">1</text>
<text x="546.4" y="19.0" font-size="9.0" font-weight="normal" text-anchor="middle" fill="#000" textLength="5.5" lengthAdjust="spacingAndGlyphs"  stroke="#000" stroke-width="0.06">2</text>
<text x="552.3" y="19.0" font-size="9.0" font-weight="normal" text-anchor="middle" fill="#000" textLength="5.5" lengthAdjust="spacingAndGlyphs"  stroke="#000" stroke-width="0.06">3</text>
<text x="558.2" y="19.0" font-size="9.0" font-weight="normal" text-anchor="middle" fill="#000" textLength="5.5" lengthAdjust="spacingAndGlyphs"  stroke="#000" stroke-width="0.06">4</text>
<text x="564.2" y="19.0" font-size="9.0" font-weight="normal" text-anchor="middle" fill="#000" textLength="5.5" lengthAdjust="spacingAndGlyphs"  stroke="#000" stroke-width="0.06">5</text>
<text x="612.7" y="19.0" font-size="9.0" font-weight="normal" text-anchor="middle" fill="#000" textLength="5.5" lengthAdjust="spacingAndGlyphs"  stroke="#000" stroke-width="0.06">1</text>
<text x="618.7" y="19.0" font-size="9.0" font-weight="normal" text-anchor="middle" fill="#000" textLength="5.5" lengthAdjust="spacingAndGlyphs"  stroke="#000" stroke-width="0.06">2</text>
<text x="624.6" y="19.0" font-size="9.0" font-weight="normal" text-anchor="middle" fill="#000" textLength="5.5" lengthAdjust="spacingAndGlyphs"  stroke="#000" stroke-width="0.06">3</text>
<text x="630.4" y="19.0" font-size="9.0" font-weight="normal" text-anchor="middle" fill="#000" textLength="5.5" lengthAdjust="spacingAndGlyphs"  stroke="#000" stroke-width="0.06">4</text>
<text x="636.5" y="19.0" font-size="9.0" font-weight="normal" text-anchor="middle" fill="#000" textLength="5.5" lengthAdjust="spacingAndGlyphs"  stroke="#000" stroke-width="0.06">5</text>
<text x="574.1" y="9.4" font-size="11.0" font-weight="bold" text-anchor="middle" fill="#000" textLength="41.6" lengthAdjust="spacingAndGlyphs"  stroke="#000" stroke-width="0.35">Mexico</text>
<text x="476.1" y="20.1" font-size="10.2" font-weight="bold" text-anchor="start" fill="#000" textLength="31.2" lengthAdjust="spacingAndGlyphs"  stroke="#000" stroke-width="0.35">Stage</text>
<line x1="510.1" y1="17.0" x2="524.3" y2="17.0" stroke="#111" stroke-width="1.2"/>
<polygon points="523.1,14.1 528.8,17.0 523.1,19.9" fill="#111"/>
<text x="476.1" y="36.8" font-size="10.6" font-weight="bold" text-anchor="start" fill="#000" textLength="16.6" lengthAdjust="spacingAndGlyphs"  stroke="#000" stroke-width="0.35">(E)</text>
<text x="476.1" y="160.0" font-size="10.6" font-weight="bold" text-anchor="start" fill="#000" textLength="16.6" lengthAdjust="spacingAndGlyphs"  stroke="#000" stroke-width="0.35">(F)</text>
<line x1="472.6" y1="147.4" x2="474.8" y2="147.4" stroke="#444" stroke-width="0.8"/>
<text x="470.2" y="150.6" font-size="9.0" font-weight="normal" text-anchor="end" fill="#000" textLength="12.9" lengthAdjust="spacingAndGlyphs"  stroke="#000" stroke-width="0.06">0.0</text>
<line x1="472.6" y1="123.30000000000001" x2="474.8" y2="123.30000000000001" stroke="#444" stroke-width="0.8"/>
<text x="470.2" y="126.50000000000001" font-size="9.0" font-weight="normal" text-anchor="end" fill="#000" textLength="12.9" lengthAdjust="spacingAndGlyphs"  stroke="#000" stroke-width="0.06">0.5</text>
<line x1="472.6" y1="99.2" x2="474.8" y2="99.2" stroke="#444" stroke-width="0.8"/>
<text x="470.2" y="102.4" font-size="9.0" font-weight="normal" text-anchor="end" fill="#000" textLength="12.9" lengthAdjust="spacingAndGlyphs"  stroke="#000" stroke-width="0.06">1.0</text>
<line x1="472.6" y1="75.1" x2="474.8" y2="75.1" stroke="#444" stroke-width="0.8"/>
<text x="470.2" y="78.3" font-size="9.0" font-weight="normal" text-anchor="end" fill="#000" textLength="12.9" lengthAdjust="spacingAndGlyphs"  stroke="#000" stroke-width="0.06">1.5</text>
<line x1="472.6" y1="51.0" x2="474.8" y2="51.0" stroke="#444" stroke-width="0.8"/>
<text x="470.2" y="54.2" font-size="9.0" font-weight="normal" text-anchor="end" fill="#000" textLength="12.9" lengthAdjust="spacingAndGlyphs"  stroke="#000" stroke-width="0.06">2.0</text>
<line x1="472.6" y1="26.900000000000006" x2="474.8" y2="26.900000000000006" stroke="#444" stroke-width="0.8"/>
<text x="470.2" y="30.100000000000005" font-size="9.0" font-weight="normal" text-anchor="end" fill="#000" textLength="12.9" lengthAdjust="spacingAndGlyphs"  stroke="#000" stroke-width="0.06">2.5</text>
<line x1="472.6" y1="270.8" x2="474.8" y2="270.8" stroke="#444" stroke-width="0.8"/>
<text x="470.40000000000003" y="273.8" font-size="9.0" font-weight="normal" text-anchor="end" fill="#000" textLength="5.15" lengthAdjust="spacingAndGlyphs"  stroke="#000" stroke-width="0.06">0</text>
<line x1="472.6" y1="247.9" x2="474.8" y2="247.9" stroke="#444" stroke-width="0.8"/>
<text x="470.40000000000003" y="250.9" font-size="9.0" font-weight="normal" text-anchor="end" fill="#000" textLength="10.3" lengthAdjust="spacingAndGlyphs"  stroke="#000" stroke-width="0.06">50</text>
<line x1="472.6" y1="225.0" x2="474.8" y2="225.0" stroke="#444" stroke-width="0.8"/>
<text x="470.40000000000003" y="228.0" font-size="9.0" font-weight="normal" text-anchor="end" fill="#000" textLength="15.450000000000001" lengthAdjust="spacingAndGlyphs"  stroke="#000" stroke-width="0.06">100</text>
<line x1="472.6" y1="202.10000000000002" x2="474.8" y2="202.10000000000002" stroke="#444" stroke-width="0.8"/>
<text x="470.40000000000003" y="205.10000000000002" font-size="9.0" font-weight="normal" text-anchor="end" fill="#000" textLength="15.450000000000001" lengthAdjust="spacingAndGlyphs"  stroke="#000" stroke-width="0.06">150</text>
<line x1="472.6" y1="179.2" x2="474.8" y2="179.2" stroke="#444" stroke-width="0.8"/>
<text x="470.40000000000003" y="182.2" font-size="9.0" font-weight="normal" text-anchor="end" fill="#000" textLength="15.450000000000001" lengthAdjust="spacingAndGlyphs"  stroke="#000" stroke-width="0.06">200</text>
<line x1="472.6" y1="156.3" x2="474.8" y2="156.3" stroke="#444" stroke-width="0.8"/>
<text x="470.40000000000003" y="159.3" font-size="9.0" font-weight="normal" text-anchor="end" fill="#000" textLength="15.450000000000001" lengthAdjust="spacingAndGlyphs"  stroke="#000" stroke-width="0.06">250</text>
<line x1="474.8" y1="270.8" x2="474.8" y2="273.40000000000003" stroke="#444" stroke-width="0.8"/>
<text x="474.8" y="280.9" font-size="9.0" font-weight="normal" text-anchor="middle" fill="#000" textLength="5.5" lengthAdjust="spacingAndGlyphs"  stroke="#000" stroke-width="0.06">0</text>
<line x1="514.52" y1="270.8" x2="514.52" y2="273.40000000000003" stroke="#444" stroke-width="0.8"/>
<text x="514.52" y="280.9" font-size="9.0" font-weight="normal" text-anchor="middle" fill="#000" textLength="16.5" lengthAdjust="spacingAndGlyphs"  stroke="#000" stroke-width="0.06">200</text>
<line x1="554.24" y1="270.8" x2="554.24" y2="273.40000000000003" stroke="#444" stroke-width="0.8"/>
<text x="554.24" y="280.9" font-size="9.0" font-weight="normal" text-anchor="middle" fill="#000" textLength="16.5" lengthAdjust="spacingAndGlyphs"  stroke="#000" stroke-width="0.06">400</text>
<line x1="593.96" y1="270.8" x2="593.96" y2="273.40000000000003" stroke="#444" stroke-width="0.8"/>
<text x="593.96" y="280.9" font-size="9.0" font-weight="normal" text-anchor="middle" fill="#000" textLength="16.5" lengthAdjust="spacingAndGlyphs"  stroke="#000" stroke-width="0.06">600</text>
<line x1="633.68" y1="270.8" x2="633.68" y2="273.40000000000003" stroke="#444" stroke-width="0.8"/>
<text x="633.68" y="280.9" font-size="9.0" font-weight="normal" text-anchor="middle" fill="#000" textLength="16.5" lengthAdjust="spacingAndGlyphs"  stroke="#000" stroke-width="0.06">800</text>
<line x1="673.4" y1="270.8" x2="673.4" y2="273.40000000000003" stroke="#444" stroke-width="0.8"/>
<text x="673.4" y="280.9" font-size="8.8" font-weight="normal" text-anchor="middle" fill="#000" textLength="21.2" lengthAdjust="spacingAndGlyphs"  stroke="#000" stroke-width="0.06">1000</text>
<text x="574.1" y="292.2" font-size="9.8" font-weight="bold" text-anchor="middle" fill="#000" textLength="65" lengthAdjust="spacingAndGlyphs"  stroke="#000" stroke-width="0.35">Time (days)</text>
<text transform="translate(15.8,88.3) rotate(-90)" font-size="9.2" font-weight="bold" text-anchor="middle" fill="#000" stroke="#000" stroke-width="0.35" textLength="93.5" lengthAdjust="spacingAndGlyphs">Daily cases / 1e4</text>
<text transform="translate(8.9,213.4) rotate(-90)" font-size="9.2" font-weight="bold" text-anchor="middle" fill="#000" stroke="#000" stroke-width="0.35" textLength="133" lengthAdjust="spacingAndGlyphs">Amount of vaccines and</text>
<text transform="translate(17.6,210.8) rotate(-90)" font-size="8.9" font-weight="bold" text-anchor="middle" fill="#000" stroke="#000" stroke-width="0.35" textLength="119.5" lengthAdjust="spacingAndGlyphs">immune people /1e6</text>
<rect x="9.5" y="309.5" width="673.5" height="30.5" rx="2" fill="#fff" stroke="#e0e0e0" stroke-width="1"/>
<rect x="11.7" y="313.1" width="21.6" height="7.8" fill="#2b78b5"/>
<line x1="11.7" y1="330.8" x2="33.3" y2="330.8" stroke="#d62728" stroke-width="2"/>
<line x1="236.4" y1="316.7" x2="258.6" y2="316.7" stroke="#8c564b" stroke-width="2"/>
<line x1="236.4" y1="330.4" x2="258.6" y2="330.4" stroke="#f07d16" stroke-width="2"/>
<line x1="458.8" y1="316.8" x2="480.9" y2="316.8" stroke="#2ca02c" stroke-width="2"/>
<text x="40.9" y="320.2" font-size="9.6" font-weight="bold" text-anchor="start" fill="#000" textLength="143.3" lengthAdjust="spacingAndGlyphs"  stroke="#000" stroke-width="0.35">Official Data - daily cases</text>
<text x="40.9" y="334.4" font-size="9.6" font-weight="bold" text-anchor="start" fill="#000" textLength="175.6" lengthAdjust="spacingAndGlyphs"  stroke="#000" stroke-width="0.35">Official Data - 7 days mov. avg.</text>
<text x="265.6" y="320.2" font-size="9.6" font-weight="bold" text-anchor="start" fill="#000" textLength="86.8" lengthAdjust="spacingAndGlyphs"  stroke="#000" stroke-width="0.35">Immune people</text>
<text x="265.6" y="334.4" font-size="9.6" font-weight="bold" text-anchor="start" fill="#000" textLength="174.1" lengthAdjust="spacingAndGlyphs"  stroke="#000" stroke-width="0.35">Mean value of model - Isolated</text>
<text x="489.1" y="320.2" font-size="9.6" font-weight="bold" text-anchor="start" fill="#000" textLength="189" lengthAdjust="spacingAndGlyphs"  stroke="#000" stroke-width="0.35">Number of vaccines administered</text>
</svg>
</body></html>
